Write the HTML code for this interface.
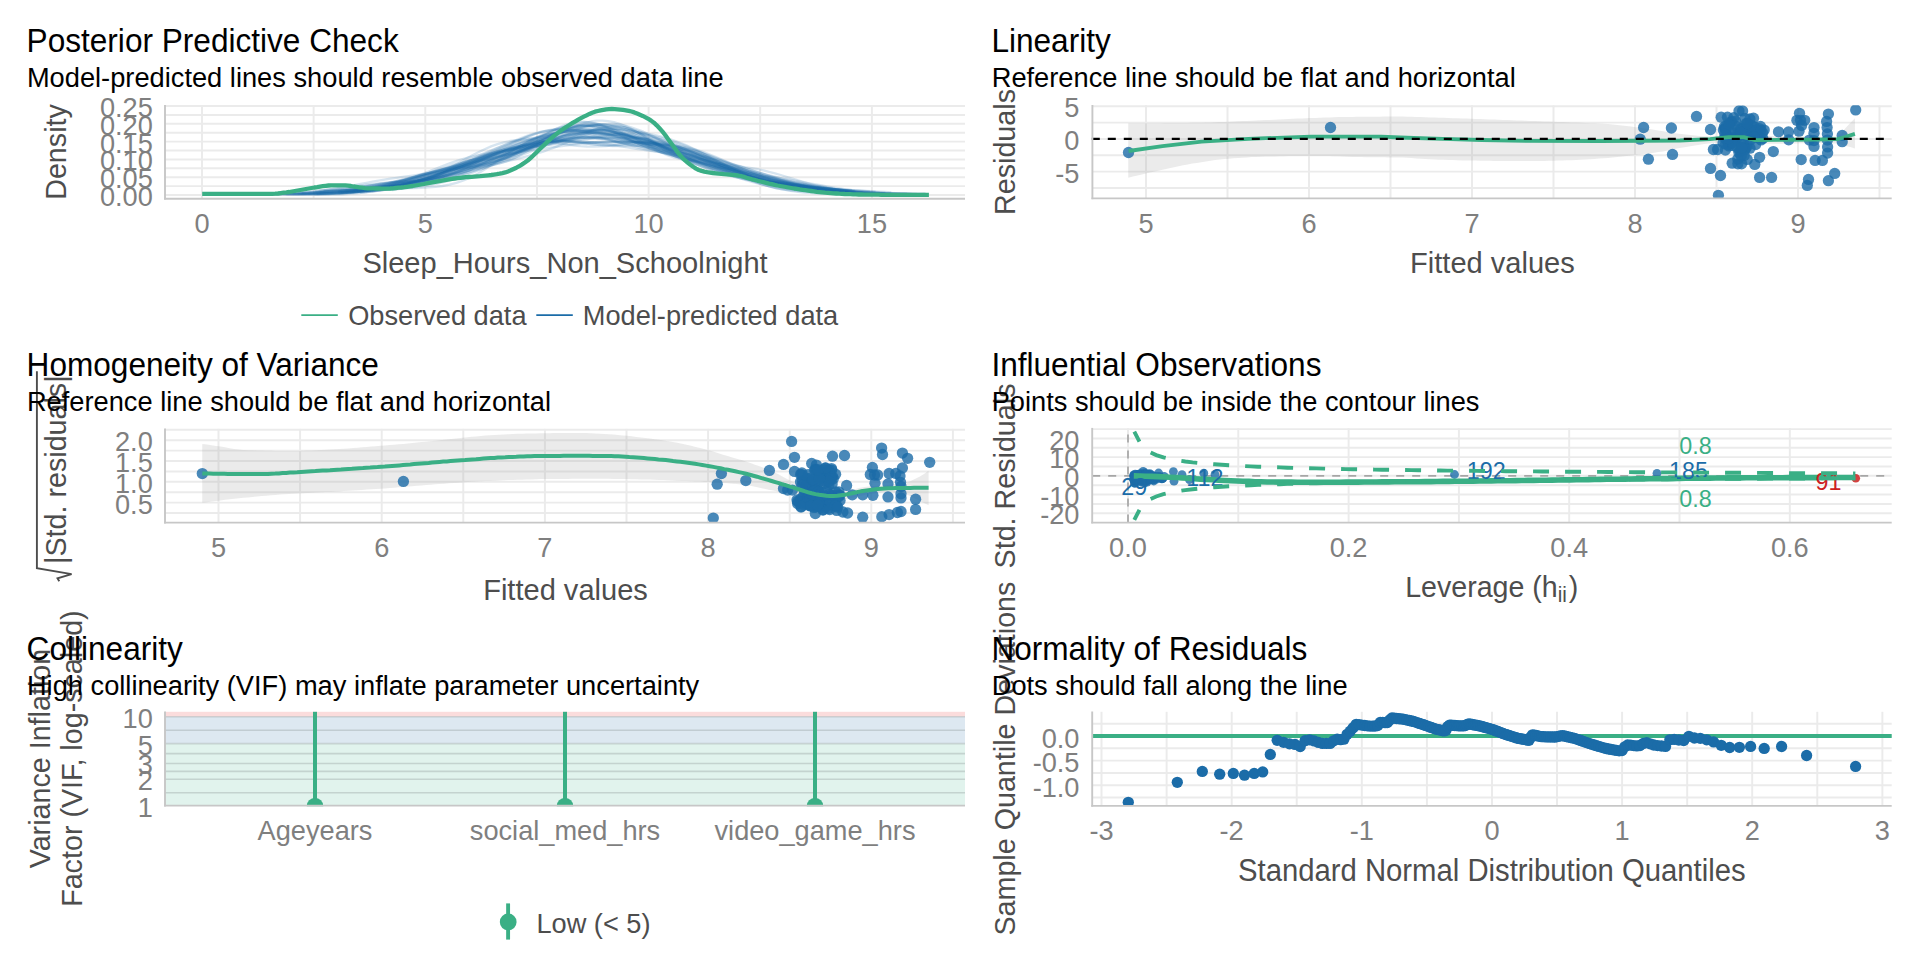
<!DOCTYPE html>
<html lang="en"><head><meta charset="utf-8"><title>Model check</title>
<style>html,body{margin:0;padding:0;background:#fff}body{width:1920px;height:960px;overflow:hidden}svg{display:block}text{white-space:pre}</style></head>
<body>
<svg width="1920" height="960" viewBox="0 0 1920 960" font-family="'Liberation Sans', sans-serif">
<rect width="1920" height="960" fill="#ffffff"/>
<defs>
<clipPath id="c1"><rect x="165" y="105.3" width="800" height="93.4"/></clipPath>
</defs>
<line x1="165" y1="195" x2="965" y2="195" stroke="#ebebeb" stroke-width="1.95"/>
<line x1="165" y1="186.1" x2="965" y2="186.1" stroke="#ebebeb" stroke-width="1.95"/>
<line x1="165" y1="177.2" x2="965" y2="177.2" stroke="#ebebeb" stroke-width="1.95"/>
<line x1="165" y1="168.3" x2="965" y2="168.3" stroke="#ebebeb" stroke-width="1.95"/>
<line x1="165" y1="159.4" x2="965" y2="159.4" stroke="#ebebeb" stroke-width="1.95"/>
<line x1="165" y1="150.5" x2="965" y2="150.5" stroke="#ebebeb" stroke-width="1.95"/>
<line x1="165" y1="141.6" x2="965" y2="141.6" stroke="#ebebeb" stroke-width="1.95"/>
<line x1="165" y1="132.7" x2="965" y2="132.7" stroke="#ebebeb" stroke-width="1.95"/>
<line x1="165" y1="123.8" x2="965" y2="123.8" stroke="#ebebeb" stroke-width="1.95"/>
<line x1="165" y1="114.9" x2="965" y2="114.9" stroke="#ebebeb" stroke-width="1.95"/>
<line x1="165" y1="106" x2="965" y2="106" stroke="#ebebeb" stroke-width="1.95"/>
<line x1="202" y1="105.3" x2="202" y2="198.7" stroke="#ebebeb" stroke-width="1.95"/>
<line x1="313.6" y1="105.3" x2="313.6" y2="198.7" stroke="#ebebeb" stroke-width="1.95"/>
<line x1="425.3" y1="105.3" x2="425.3" y2="198.7" stroke="#ebebeb" stroke-width="1.95"/>
<line x1="537" y1="105.3" x2="537" y2="198.7" stroke="#ebebeb" stroke-width="1.95"/>
<line x1="648.6" y1="105.3" x2="648.6" y2="198.7" stroke="#ebebeb" stroke-width="1.95"/>
<line x1="760.2" y1="105.3" x2="760.2" y2="198.7" stroke="#ebebeb" stroke-width="1.95"/>
<line x1="871.9" y1="105.3" x2="871.9" y2="198.7" stroke="#ebebeb" stroke-width="1.95"/>
<g clip-path="url(#c1)" fill="none" stroke="#1b6ca8" stroke-opacity="0.175" stroke-width="2.3" stroke-linejoin="round">
<polyline points="345.5,192.5 350.8,192 356.1,191.4 361.4,190.6 366.7,189.8 372,188.9 377.3,187.8 382.6,186.7 387.9,185.5 393.2,184.3 398.5,183 403.8,181.7 409.1,180.3 414.4,178.9 419.7,177.4 425,175.8 430.4,174.2 435.7,172.5 441,170.7 446.3,168.9 451.6,167 456.9,165.1 462.2,163.2 467.5,161.4 472.8,159.5 478.1,157.7 483.4,155.9 488.7,154.2 494,152.5 499.3,150.8 504.6,149.1 509.9,147.4 515.2,145.7 520.5,143.9 525.8,142.1 531.1,140.1 536.4,138.1 541.7,136 547,133.7 552.4,131.5 557.7,129.3 563,127.1 568.3,125.2 573.6,123.7 578.9,122.6 584.2,122.2 589.5,122.4 594.8,123.3 600.1,124.9 605.4,127 610.7,129.6 616,132.5 621.3,135.4 626.6,138.3 631.9,141 637.2,143.3 642.5,145.4 647.8,147.1 653.1,148.6 658.4,149.9 663.7,151.2 669,152.5 674.3,154 679.7,155.6 685,157.4 690.3,159.4 695.6,161.5 700.9,163.7 706.2,165.8 711.5,167.9 716.8,170 722.1,172 727.4,173.9 732.7,175.8 738,177.5 743.3,179.3 748.6,180.9 753.9,182.5 759.2,183.9 764.5,185.2 769.8,186.4 775.1,187.4 780.4,188.2 785.7,189 791,189.6 796.3,190.1 801.7,190.7 807,191.1 812.3,191.6 817.6,192"/>
<polyline points="272.6,194 279.1,194 285.5,194 292,194 298.4,194 304.9,193.9 311.3,193.9 317.8,193.8 324.2,193.7 330.7,193.5 337.1,193.3 343.6,193 350,192.6 356.5,192 362.9,191.3 369.4,190.5 375.8,189.4 382.3,188.1 388.7,186.7 395.2,185.2 401.6,183.6 408.1,182 414.5,180.3 421,178.6 427.4,176.8 433.8,174.9 440.3,172.8 446.7,170.4 453.2,167.9 459.6,165.2 466.1,162.5 472.5,159.7 479,157.1 485.4,154.8 491.9,152.8 498.3,151 504.8,149.4 511.2,148 517.7,146.5 524.1,144.8 530.6,142.9 537,140.7 543.5,138.3 549.9,135.6 556.4,132.9 562.8,130.3 569.3,128.1 575.7,126.5 582.2,125.6 588.6,125.5 595.1,126.3 601.5,127.8 607.9,129.9 614.4,132.6 620.8,135.5 627.3,138.6 633.7,141.6 640.2,144.4 646.6,147.1 653.1,149.5 659.5,151.7 666,153.7 672.4,155.5 678.9,157.3 685.3,159 691.8,160.8 698.2,162.5 704.7,164.3 711.1,166.2 717.6,168 724,169.8 730.5,171.5 736.9,173.3 743.4,175 749.8,176.7 756.3,178.4 762.7,180.1 769.2,181.8 775.6,183.4 782.1,184.9 788.5,186.3 794.9,187.5 801.4,188.6 807.8,189.6 814.3,190.4 820.7,191.1 827.2,191.7 833.6,192.2 840.1,192.6 846.5,193"/>
<polyline points="315.5,192.4 321.4,192.2 327.4,192 333.3,191.9 339.3,191.7 345.3,191.6 351.2,191.5 357.2,191.3 363.2,191 369.1,190.6 375.1,190 381,189.3 387,188.4 393,187.4 398.9,186.1 404.9,184.6 410.9,182.9 416.8,181.1 422.8,179.2 428.7,177.4 434.7,175.6 440.7,173.9 446.6,172.3 452.6,170.8 458.5,169.3 464.5,167.6 470.5,165.9 476.4,164 482.4,161.9 488.4,159.7 494.3,157.5 500.3,155.2 506.2,153 512.2,150.9 518.2,148.7 524.1,146.5 530.1,144.2 536.1,141.7 542,139 548,136.2 553.9,133.4 559.9,130.8 565.9,128.4 571.8,126.6 577.8,125.3 583.7,124.6 589.7,124.5 595.7,125 601.6,125.9 607.6,127.1 613.6,128.5 619.5,130.1 625.5,131.8 631.4,133.6 637.4,135.6 643.4,137.7 649.3,140.1 655.3,142.6 661.3,145.3 667.2,148.1 673.2,151 679.1,153.9 685.1,156.8 691.1,159.7 697,162.4 703,165.1 708.9,167.6 714.9,170 720.9,172.3 726.8,174.3 732.8,176.2 738.8,177.8 744.7,179.2 750.7,180.4 756.6,181.4 762.6,182.2 768.6,182.9 774.5,183.5 780.5,184.2 786.5,184.9 792.4,185.7 798.4,186.6 804.3,187.5 810.3,188.4 816.3,189.3 822.2,190.2 828.2,190.9 834.2,191.6 840.1,192.2 846.1,192.7"/>
<polyline points="366,189.6 371.5,188.7 376.9,187.8 382.3,186.8 387.8,185.9 393.2,184.9 398.7,184 404.1,183.1 409.5,182.3 415,181.4 420.4,180.5 425.8,179.5 431.3,178.5 436.7,177.3 442.2,176.1 447.6,174.8 453,173.4 458.5,171.8 463.9,170.2 469.3,168.4 474.8,166.5 480.2,164.5 485.7,162.4 491.1,160.2 496.5,157.7 502,155.2 507.4,152.5 512.8,149.7 518.3,146.9 523.7,144.1 529.2,141.3 534.6,138.7 540,136.3 545.5,134 550.9,132.1 556.3,130.4 561.8,129 567.2,127.9 572.7,127 578.1,126.5 583.5,126.3 589,126.5 594.4,127.1 599.8,128 605.3,129.3 610.7,131 616.2,132.9 621.6,135 627,137.2 632.5,139.4 637.9,141.5 643.3,143.5 648.8,145.4 654.2,147.2 659.7,148.9 665.1,150.6 670.5,152.2 676,153.8 681.4,155.4 686.8,157 692.3,158.7 697.7,160.4 703.2,162.1 708.6,163.9 714,165.6 719.5,167.4 724.9,169.2 730.3,171 735.8,172.8 741.2,174.6 746.7,176.3 752.1,177.9 757.5,179.3 763,180.7 768.4,181.9 773.9,182.9 779.3,183.7 784.7,184.5 790.2,185.1 795.6,185.6 801,186.1 806.5,186.5 811.9,187 817.4,187.4 822.8,187.9 828.2,188.4 833.7,189 839.1,189.6 844.5,190.2 850,190.8"/>
<polyline points="356.5,187.7 362,186.7 367.5,185.7 373,184.8 378.4,184 383.9,183.3 389.4,182.7 394.8,182.2 400.3,181.8 405.8,181.5 411.3,181.2 416.7,180.8 422.2,180.4 427.7,179.9 433.2,179.2 438.6,178.2 444.1,177 449.6,175.5 455.1,173.7 460.5,171.5 466,169.1 471.5,166.4 477,163.4 482.4,160.4 487.9,157.4 493.4,154.4 498.9,151.6 504.3,149.1 509.8,146.8 515.3,144.7 520.8,143 526.2,141.4 531.7,139.9 537.2,138.5 542.7,137.1 548.1,135.7 553.6,134.4 559.1,133.1 564.6,131.9 570,131 575.5,130.3 581,130 586.5,130.1 591.9,130.5 597.4,131.4 602.9,132.5 608.4,134 613.8,135.6 619.3,137.3 624.8,139.1 630.3,140.9 635.7,142.6 641.2,144.2 646.7,145.7 652.2,147.1 657.6,148.5 663.1,149.8 668.6,151.1 674.1,152.5 679.5,154 685,155.6 690.5,157.5 695.9,159.4 701.4,161.6 706.9,163.9 712.4,166.2 717.8,168.6 723.3,170.9 728.8,173 734.3,175 739.7,176.7 745.2,178.2 750.7,179.5 756.2,180.5 761.6,181.4 767.1,182.2 772.6,183 778.1,183.6 783.5,184.2 789,184.9 794.5,185.4 800,186 805.4,186.6 810.9,187.1 816.4,187.6 821.9,188.1 827.3,188.5 832.8,189 838.3,189.5 843.8,190.1"/>
<polyline points="338.7,191.2 344.7,190.8 350.7,190.3 356.8,189.8 362.8,189.2 368.8,188.6 374.9,187.8 380.9,187 386.9,185.9 392.9,184.6 399,183.2 405,181.5 411,179.6 417.1,177.5 423.1,175.3 429.1,173.1 435.2,170.8 441.2,168.6 447.2,166.5 453.3,164.6 459.3,162.9 465.3,161.4 471.4,160.1 477.4,158.9 483.4,157.9 489.5,156.9 495.5,156 501.5,155 507.5,154.1 513.6,153.1 519.6,152.2 525.6,151.2 531.7,150.2 537.7,149.3 543.7,148.4 549.8,147.6 555.8,146.8 561.8,146.1 567.9,145.3 573.9,144.6 579.9,143.9 586,143.2 592,142.6 598,142 604.1,141.6 610.1,141.2 616.1,141.1 622.1,141.1 628.2,141.4 634.2,142 640.2,142.8 646.3,143.8 652.3,145 658.3,146.4 664.4,147.8 670.4,149.4 676.4,150.9 682.5,152.5 688.5,154 694.5,155.5 700.6,156.9 706.6,158.3 712.6,159.6 718.7,161 724.7,162.4 730.7,163.9 736.8,165.5 742.8,167.3 748.8,169.1 754.8,171 760.9,173.1 766.9,175.1 772.9,177.2 779,179.3 785,181.2 791,183 797.1,184.6 803.1,186 809.1,187.2 815.2,188.2 821.2,189 827.2,189.6 833.3,190.1 839.3,190.4 845.3,190.6 851.4,190.8 857.4,191 863.4,191.1 869.4,191.3 875.5,191.6"/>
<polyline points="319.4,192.9 325.8,192.7 332.2,192.5 338.6,192.2 345.1,192 351.5,191.7 357.9,191.3 364.3,190.9 370.8,190.4 377.2,189.9 383.6,189.2 390,188.5 396.5,187.7 402.9,186.8 409.3,185.8 415.7,184.6 422.2,183.1 428.6,181.4 435,179.4 441.5,177.1 447.9,174.5 454.3,171.6 460.7,168.5 467.2,165.2 473.6,161.9 480,158.6 486.4,155.4 492.9,152.4 499.3,149.6 505.7,147.1 512.1,144.8 518.6,142.6 525,140.6 531.4,138.8 537.8,137 544.3,135.4 550.7,134 557.1,132.8 563.5,131.9 570,131.4 576.4,131.2 582.8,131.5 589.3,132.2 595.7,133.3 602.1,134.7 608.5,136.3 615,138.2 621.4,140.2 627.8,142.2 634.2,144.2 640.7,146.1 647.1,148 653.5,149.8 659.9,151.7 666.4,153.6 672.8,155.4 679.2,157.3 685.6,159.2 692.1,161.1 698.5,162.8 704.9,164.4 711.3,165.8 717.8,167 724.2,168.2 730.6,169.4 737.1,170.6 743.5,171.8 749.9,173.2 756.3,174.7 762.8,176.4 769.2,178 775.6,179.7 782,181.3 788.5,182.8 794.9,184.2 801.3,185.4 807.7,186.4 814.2,187.3 820.6,188 827,188.6 833.4,189.1 839.9,189.5 846.3,189.9 852.7,190.2 859.1,190.6 865.6,190.9 872,191.2 878.4,191.6 884.9,192 891.3,192.4"/>
<polyline points="359.2,189 364.4,188.4 369.6,187.8 374.8,187.3 380,186.8 385.2,186.4 390.4,186 395.6,185.6 400.7,185.1 405.9,184.4 411.1,183.7 416.3,182.7 421.5,181.6 426.7,180.2 431.9,178.5 437.1,176.7 442.3,174.7 447.4,172.5 452.6,170.3 457.8,167.9 463,165.6 468.2,163.3 473.4,161 478.6,158.8 483.8,156.7 488.9,154.7 494.1,152.9 499.3,151.1 504.5,149.6 509.7,148.1 514.9,146.8 520.1,145.7 525.3,144.7 530.5,143.9 535.6,143.2 540.8,142.6 546,142.1 551.2,141.6 556.4,141.3 561.6,140.9 566.8,140.6 572,140.2 577.2,139.8 582.3,139.4 587.5,139 592.7,138.7 597.9,138.3 603.1,138.1 608.3,137.9 613.5,137.9 618.7,138.1 623.9,138.5 629,139 634.2,139.7 639.4,140.6 644.6,141.5 649.8,142.6 655,143.6 660.2,144.7 665.4,145.7 670.5,146.8 675.7,147.9 680.9,149 686.1,150.2 691.3,151.6 696.5,153.1 701.7,154.9 706.9,156.9 712.1,159.1 717.2,161.4 722.4,163.9 727.6,166.4 732.8,168.9 738,171.2 743.2,173.4 748.4,175.4 753.6,177.1 758.8,178.6 763.9,179.9 769.1,181 774.3,181.8 779.5,182.6 784.7,183.2 789.9,183.8 795.1,184.4 800.3,185 805.5,185.6 810.6,186.3 815.8,187.1 821,187.8"/>
<polyline points="315.8,193.6 321.9,193.4 328.1,193.2 334.2,193 340.4,192.7 346.5,192.3 352.7,192 358.8,191.5 365,191 371.1,190.5 377.3,189.8 383.4,189 389.6,188.1 395.7,187.1 401.9,185.9 408,184.5 414.2,182.8 420.3,181 426.5,178.9 432.6,176.7 438.8,174.3 444.9,171.8 451.1,169.2 457.2,166.7 463.4,164.2 469.5,161.8 475.7,159.5 481.8,157.4 488,155.4 494.1,153.6 500.2,151.9 506.4,150.4 512.5,148.9 518.7,147.6 524.8,146.3 531,145.1 537.1,144 543.3,142.8 549.4,141.7 555.6,140.6 561.7,139.6 567.9,138.7 574,137.9 580.2,137.3 586.3,137 592.5,136.9 598.6,137.1 604.8,137.5 610.9,138.1 617.1,138.9 623.2,139.8 629.4,140.8 635.5,141.9 641.7,143.1 647.8,144.4 654,145.8 660.1,147.4 666.3,149.1 672.4,150.8 678.6,152.7 684.7,154.6 690.9,156.4 697,158.2 703.2,160 709.3,161.6 715.5,163.2 721.6,164.6 727.8,166 733.9,167.4 740.1,168.7 746.2,170 752.4,171.3 758.5,172.7 764.7,174.1 770.8,175.6 777,177.2 783.1,178.8 789.3,180.4 795.4,182 801.6,183.6 807.7,185.1 813.9,186.6 820,187.8 826.2,188.9 832.3,189.9 838.4,190.7 844.6,191.4 850.7,192 856.9,192.4 863,192.8"/>
<polyline points="260.1,193.6 267,193.8 273.9,194 280.8,194.2 287.7,194.4 294.6,194.5 301.5,194.7 308.5,194.7 315.4,194.8 322.3,194.8 329.2,194.7 336.1,194.5 343,194.3 350,193.9 356.9,193.3 363.8,192.6 370.7,191.7 377.6,190.6 384.5,189.3 391.4,187.8 398.4,186.1 405.3,184.3 412.2,182.3 419.1,180.3 426,178.1 432.9,175.8 439.8,173.5 446.8,171 453.7,168.5 460.6,165.8 467.5,163 474.4,160 481.3,156.9 488.3,153.7 495.2,150.5 502.1,147.3 509,144.2 515.9,141.1 522.8,138.3 529.7,135.8 536.7,133.5 543.6,131.7 550.5,130.4 557.4,129.7 564.3,129.6 571.2,130 578.1,131 585.1,132.4 592,134.2 598.9,136.2 605.8,138.3 612.7,140.4 619.6,142.5 626.6,144.5 633.5,146.4 640.4,148.2 647.3,149.7 654.2,151.1 661.1,152.4 668,153.6 675,154.9 681.9,156.2 688.8,157.6 695.7,159.2 702.6,161 709.5,162.9 716.4,165.1 723.4,167.3 730.3,169.7 737.2,172 744.1,174.4 751,176.7 757.9,178.8 764.9,180.8 771.8,182.5 778.7,184 785.6,185.4 792.5,186.5 799.4,187.4 806.3,188.2 813.3,189 820.2,189.6 827.1,190.1 834,190.6 840.9,191.1 847.8,191.5 854.7,191.9 861.7,192.3 868.6,192.6 875.5,193"/>
<polyline points="298.4,193.7 304.6,193.6 310.9,193.4 317.1,193.2 323.4,193 329.6,192.8 335.8,192.4 342.1,192 348.3,191.5 354.6,190.9 360.8,190.2 367,189.4 373.3,188.6 379.5,187.8 385.7,187 392,186.1 398.2,185.3 404.5,184.3 410.7,183.3 416.9,182.1 423.2,180.8 429.4,179.3 435.7,177.7 441.9,175.9 448.1,174.2 454.4,172.4 460.6,170.7 466.9,169 473.1,167.4 479.3,165.7 485.6,164 491.8,162.2 498.1,160.2 504.3,158 510.5,155.8 516.8,153.4 523,151.1 529.2,148.9 535.5,146.7 541.7,144.7 548,142.9 554.2,141.1 560.4,139.3 566.7,137.6 572.9,135.8 579.2,133.9 585.4,132.1 591.6,130.3 597.9,128.8 604.1,127.6 610.4,126.8 616.6,126.7 622.8,127.2 629.1,128.3 635.3,130 641.6,132.2 647.8,134.7 654,137.5 660.3,140.3 666.5,143.1 672.8,145.8 679,148.6 685.2,151.3 691.5,154.1 697.7,157.1 703.9,160.1 710.2,163.3 716.4,166.4 722.7,169.3 728.9,172.1 735.1,174.5 741.4,176.5 747.6,178.2 753.9,179.5 760.1,180.6 766.3,181.6 772.6,182.4 778.8,183.1 785.1,183.9 791.3,184.6 797.5,185.3 803.8,186 810,186.7 816.3,187.4 822.5,188 828.7,188.6 835,189.3 841.2,189.9 847.4,190.5 853.7,191.1"/>
<polyline points="337.5,193 343.9,192.6 350.3,192.2 356.7,191.7 363.1,191.2 369.5,190.5 375.9,189.8 382.3,189 388.7,188.1 395.1,187 401.5,185.7 407.9,184.3 414.3,182.6 420.7,180.6 427.1,178.3 433.5,175.7 439.9,172.8 446.3,169.7 452.7,166.3 459.1,162.7 465.5,159.1 471.9,155.6 478.3,152.3 484.7,149.2 491.1,146.4 497.5,144.2 503.9,142.3 510.3,141 516.7,140.1 523.1,139.7 529.5,139.7 535.9,140.1 542.3,140.8 548.7,141.7 555.1,142.7 561.5,143.7 567.9,144.7 574.3,145.5 580.7,146.2 587.1,146.5 593.5,146.6 599.9,146.4 606.3,146 612.7,145.3 619.1,144.4 625.5,143.5 631.9,142.7 638.3,142.1 644.7,141.8 651.1,141.9 657.5,142.4 663.9,143.5 670.3,145 676.7,146.9 683.1,149.2 689.5,151.8 695.9,154.5 702.3,157.3 708.7,160.1 715.1,162.8 721.5,165.4 727.9,167.8 734.3,170 740.7,172.1 747.1,174 753.5,175.8 759.9,177.5 766.3,179 772.7,180.5 779.1,181.9 785.5,183.3 791.9,184.6 798.3,185.9 804.7,187 811.1,188.1 817.5,189.1 823.9,190 830.3,190.8 836.7,191.4 843.1,192 849.5,192.4 855.9,192.7 862.3,193 868.7,193.2 875.1,193.3 881.5,193.5 887.9,193.6 894.3,193.7 900.7,193.7 907.1,193.8"/>
<polyline points="315,191.2 321.7,190.6 328.4,190.1 335.1,189.7 341.8,189.4 348.5,189.2 355.2,189 361.9,188.8 368.6,188.5 375.3,188.2 382,187.7 388.7,187 395.4,186.1 402.1,184.8 408.8,183.3 415.5,181.4 422.2,179.4 428.9,177.1 435.6,174.9 442.3,172.6 449.1,170.5 455.8,168.6 462.5,167 469.2,165.6 475.9,164.4 482.6,163.3 489.3,162.2 496,160.9 502.7,159.4 509.4,157.5 516.1,155.3 522.8,152.8 529.5,150.1 536.2,147.2 542.9,144.4 549.6,141.5 556.3,138.8 563,136.3 569.7,134.1 576.4,132.3 583.1,131 589.8,130.3 596.5,130.1 603.2,130.5 609.9,131.5 616.6,132.8 623.4,134.4 630.1,136.2 636.8,138 643.5,139.9 650.2,141.7 656.9,143.5 663.6,145.4 670.3,147.5 677,149.7 683.7,152.2 690.4,154.9 697.1,157.8 703.8,160.9 710.5,164.1 717.2,167.2 723.9,170.1 730.6,172.8 737.3,175.2 744,177.2 750.7,178.9 757.4,180.1 764.1,181.1 770.8,181.8 777.5,182.3 784.2,182.8 791,183.3 797.7,183.9 804.4,184.6 811.1,185.6 817.8,186.6 824.5,187.7 831.2,188.8 837.9,189.8 844.6,190.7 851.3,191.6 858,192.2 864.7,192.8 871.4,193.1 878.1,193.4 884.8,193.6 891.5,193.7 898.2,193.8 904.9,193.9 911.6,194"/>
<polyline points="392,190.1 397.2,189.3 402.4,188.4 407.6,187.5 412.8,186.5 418,185.4 423.2,184.2 428.4,182.9 433.6,181.4 438.8,179.7 444,177.8 449.2,175.8 454.4,173.5 459.6,171.1 464.8,168.5 470,165.8 475.2,163.1 480.4,160.5 485.6,157.9 490.8,155.5 496,153.4 501.2,151.5 506.4,150 511.6,148.7 516.8,147.7 522,146.8 527.2,146 532.4,145.2 537.6,144.2 542.8,143 548,141.5 553.2,139.7 558.4,137.6 563.6,135.3 568.8,133 574,130.7 579.2,128.6 584.4,126.8 589.6,125.6 594.8,124.8 600,124.7 605.2,125 610.4,125.9 615.6,127.2 620.8,128.8 626,130.8 631.2,132.9 636.4,135.1 641.6,137.4 646.8,139.8 652,142.1 657.2,144.3 662.4,146.5 667.6,148.5 672.8,150.4 678,152.2 683.2,153.9 688.4,155.5 693.6,157 698.8,158.6 704,160.1 709.2,161.6 714.4,163.2 719.6,164.8 724.8,166.3 730,168 735.2,169.6 740.4,171.2 745.7,172.8 750.9,174.4 756.1,176 761.3,177.6 766.5,179.2 771.7,180.7 776.9,182.1 782.1,183.4 787.3,184.6 792.5,185.7 797.7,186.5 802.9,187.3 808.1,187.8 813.3,188.3 818.5,188.7 823.7,189 828.9,189.2 834.1,189.5 839.3,189.8 844.5,190.2 849.7,190.6 854.9,191"/>
<polyline points="360.4,187.8 366.6,186.5 372.7,185.2 378.8,184.2 385,183.3 391.1,182.7 397.3,182.2 403.4,181.9 409.6,181.6 415.7,181.3 421.9,180.9 428,180.3 434.2,179.5 440.3,178.5 446.4,177.3 452.6,175.7 458.7,173.9 464.9,171.7 471,169.4 477.2,166.9 483.3,164.4 489.5,161.9 495.6,159.6 501.8,157.5 507.9,155.5 514,153.5 520.2,151.2 526.3,148.7 532.5,145.7 538.6,142.5 544.8,139 550.9,135.5 557.1,132.3 563.2,129.5 569.3,127.3 575.5,125.6 581.6,124.6 587.8,124.1 593.9,124 600.1,124.3 606.2,125 612.4,125.9 618.5,127.2 624.7,129 630.8,131.1 636.9,133.7 643.1,136.7 649.2,140 655.4,143.5 661.5,146.9 667.7,150.2 673.8,153.3 680,156.1 686.1,158.6 692.3,160.8 698.4,162.7 704.5,164.4 710.7,166 716.8,167.6 723,169.1 729.1,170.6 735.3,172.2 741.4,173.8 747.6,175.4 753.7,177.1 759.9,178.7 766,180.3 772.1,181.9 778.3,183.4 784.4,184.8 790.6,186.2 796.7,187.4 802.9,188.5 809,189.6 815.2,190.4 821.3,191.2 827.5,191.9 833.6,192.5 839.7,193 845.9,193.4 852,193.7 858.2,193.9 864.3,194.1 870.5,194.2 876.6,194.2 882.8,194.2 888.9,194.1 895.1,194 901.2,194 907.3,194"/>
<polyline points="323.6,190.6 329.5,190.3 335.4,190.1 341.3,189.9 347.2,189.7 353.1,189.6 359,189.4 364.9,189.1 370.8,188.8 376.7,188.3 382.6,187.6 388.6,186.8 394.5,185.7 400.4,184.5 406.3,183.2 412.2,181.6 418.1,180 424,178.3 429.9,176.5 435.8,174.7 441.7,172.8 447.6,170.9 453.5,169 459.5,167.1 465.4,165.1 471.3,163.2 477.2,161.1 483.1,159 489,156.8 494.9,154.7 500.8,152.5 506.7,150.3 512.6,148.3 518.5,146.4 524.4,144.7 530.4,143.4 536.3,142.3 542.2,141.6 548.1,141.2 554,141.1 559.9,141.2 565.8,141.5 571.7,141.8 577.6,142.1 583.5,142.3 589.4,142.4 595.3,142.5 601.3,142.4 607.2,142.3 613.1,142.2 619,142.1 624.9,142 630.8,142 636.7,142.1 642.6,142.3 648.5,142.6 654.4,143.1 660.3,143.7 666.2,144.6 672.2,145.7 678.1,147 684,148.6 689.9,150.5 695.8,152.7 701.7,155 707.6,157.5 713.5,160.1 719.4,162.8 725.3,165.3 731.2,167.8 737.1,170.1 743.1,172.3 749,174.3 754.9,176.1 760.8,177.8 766.7,179.3 772.6,180.7 778.5,182 784.4,183.2 790.3,184.3 796.2,185.3 802.1,186.2 808,187.1 814,187.9 819.9,188.6 825.8,189.3 831.7,190 837.6,190.6 843.5,191.2 849.4,191.8"/>
<polyline points="352.4,192.3 358,191.8 363.6,191.1 369.2,190.4 374.8,189.7 380.4,188.8 385.9,188 391.5,187 397.1,186 402.7,185 408.3,183.9 413.9,182.7 419.5,181.4 425.1,180.1 430.6,178.7 436.2,177.1 441.8,175.4 447.4,173.6 453,171.7 458.6,169.6 464.2,167.5 469.8,165.3 475.3,163 480.9,160.7 486.5,158.5 492.1,156.4 497.7,154.4 503.3,152.6 508.9,150.8 514.5,149.2 520,147.6 525.6,146.1 531.2,144.6 536.8,143.1 542.4,141.6 548,140.2 553.6,138.8 559.2,137.5 564.7,136.3 570.3,135.3 575.9,134.5 581.5,133.8 587.1,133.3 592.7,133.1 598.3,133 603.9,133.2 609.4,133.6 615,134.2 620.6,135.1 626.2,136.2 631.8,137.4 637.4,138.8 643,140.3 648.6,141.8 654.1,143.4 659.7,144.8 665.3,146.2 670.9,147.6 676.5,148.9 682.1,150.2 687.7,151.6 693.3,153.1 698.8,154.7 704.4,156.4 710,158.4 715.6,160.6 721.2,162.9 726.8,165.3 732.4,167.8 738,170.4 743.5,172.8 749.1,175.2 754.7,177.3 760.3,179.3 765.9,181 771.5,182.4 777.1,183.6 782.7,184.6 788.2,185.4 793.8,186 799.4,186.6 805,187 810.6,187.4 816.2,187.8 821.8,188.3 827.4,188.8 832.9,189.3 838.5,189.9 844.1,190.5 849.7,191.1"/>
<polyline points="286.5,194.1 292.9,194 299.2,194 305.5,194 311.8,193.9 318.2,193.8 324.5,193.6 330.8,193.2 337.2,192.8 343.5,192.2 349.8,191.4 356.1,190.5 362.5,189.5 368.8,188.3 375.1,187.1 381.4,185.8 387.8,184.5 394.1,183.1 400.4,181.7 406.8,180.2 413.1,178.7 419.4,177.2 425.7,175.6 432.1,174 438.4,172.3 444.7,170.6 451.1,169 457.4,167.3 463.7,165.8 470,164.3 476.4,162.9 482.7,161.5 489,160 495.3,158.5 501.7,156.8 508,155 514.3,152.9 520.7,150.6 527,148.3 533.3,145.9 539.6,143.6 546,141.6 552.3,139.9 558.6,138.7 564.9,137.9 571.3,137.4 577.6,137.3 583.9,137.5 590.3,137.8 596.6,138.1 602.9,138.3 609.2,138.5 615.6,138.5 621.9,138.3 628.2,138.1 634.6,137.9 640.9,137.7 647.2,137.8 653.5,138.2 659.9,139.1 666.2,140.4 672.5,142.3 678.8,144.7 685.2,147.5 691.5,150.6 697.8,153.9 704.2,157.3 710.5,160.7 716.8,163.9 723.1,166.8 729.5,169.6 735.8,172 742.1,174.2 748.5,176.2 754.8,178 761.1,179.7 767.4,181.3 773.8,182.7 780.1,184.1 786.4,185.5 792.7,186.7 799.1,187.8 805.4,188.8 811.7,189.6 818.1,190.3 824.4,191 830.7,191.5 837,191.9 843.4,192.3 849.7,192.7"/>
<polyline points="337.8,191.2 343.3,190.5 348.8,189.7 354.3,188.9 359.8,188.1 365.3,187.2 370.8,186.2 376.3,185.3 381.8,184.3 387.3,183.3 392.8,182.2 398.3,181.2 403.8,180.1 409.2,179 414.7,177.8 420.2,176.6 425.7,175.4 431.2,174.1 436.7,172.8 442.2,171.4 447.7,170 453.2,168.5 458.7,167 464.2,165.4 469.7,163.8 475.2,162.1 480.7,160.4 486.2,158.7 491.7,157 497.2,155.3 502.7,153.8 508.2,152.3 513.7,150.9 519.2,149.7 524.6,148.5 530.1,147.4 535.6,146.3 541.1,145.2 546.6,144.1 552.1,142.9 557.6,141.6 563.1,140.2 568.6,138.8 574.1,137.4 579.6,136 585.1,134.8 590.6,133.6 596.1,132.7 601.6,132.2 607.1,131.9 612.6,132 618.1,132.6 623.6,133.5 629.1,134.8 634.6,136.4 640,138.2 645.5,140.3 651,142.5 656.5,144.8 662,147.2 667.5,149.5 673,151.9 678.5,154.2 684,156.4 689.5,158.6 695,160.7 700.5,162.7 706,164.6 711.5,166.5 717,168.2 722.5,169.9 728,171.4 733.5,172.8 739,174.1 744.5,175.3 750,176.4 755.5,177.5 760.9,178.4 766.4,179.4 771.9,180.3 777.4,181.2 782.9,182 788.4,182.9 793.9,183.8 799.4,184.6 804.9,185.5 810.4,186.4 815.9,187.3 821.4,188.2 826.9,189.1"/>
<polyline points="353.2,190.9 359.6,190 366,188.9 372.5,187.7 378.9,186.4 385.3,185 391.8,183.5 398.2,181.8 404.6,179.9 411.1,177.9 417.5,175.7 423.9,173.3 430.3,170.9 436.8,168.3 443.2,165.8 449.6,163.3 456.1,161.1 462.5,159 468.9,157.3 475.4,155.8 481.8,154.6 488.2,153.5 494.7,152.4 501.1,151.4 507.5,150.2 513.9,148.9 520.4,147.4 526.8,145.9 533.2,144.5 539.7,143.2 546.1,142.2 552.5,141.5 559,141.3 565.4,141.4 571.8,141.9 578.2,142.6 584.7,143.4 591.1,144.2 597.5,144.8 604,145.1 610.4,145.2 616.8,145 623.3,144.6 629.7,144.1 636.1,143.6 642.6,143.3 649,143.3 655.4,143.6 661.8,144.4 668.3,145.6 674.7,147.2 681.1,149.2 687.6,151.5 694,154.1 700.4,156.7 706.9,159.5 713.3,162.2 719.7,164.9 726.1,167.6 732.6,170 739,172.4 745.4,174.6 751.9,176.6 758.3,178.4 764.7,180 771.2,181.5 777.6,182.8 784,184 790.5,185.1 796.9,186.1 803.3,187 809.7,187.9 816.2,188.7 822.6,189.5 829,190.2 835.5,191 841.9,191.7 848.3,192.3 854.8,192.9 861.2,193.4 867.6,193.8 874,194.1 880.5,194.4 886.9,194.6 893.3,194.7 899.8,194.8 906.2,194.9 912.6,194.9 919.1,194.9 925.5,194.9"/>
<polyline points="260.1,193.6 267.1,193.6 274.1,193.5 281.1,193.5 288.1,193.5 295.1,193.4 302.2,193.2 309.2,193 316.2,192.6 323.2,192.2 330.2,191.6 337.2,191 344.3,190.4 351.3,189.8 358.3,189.3 365.3,188.9 372.3,188.7 379.3,188.5 386.4,188.4 393.4,188.4 400.4,188.3 407.4,188.2 414.4,188.1 421.4,187.8 428.4,187.4 435.5,186.9 442.5,186 449.5,184.7 456.5,182.9 463.5,180.5 470.5,177.4 477.6,173.7 484.6,169.5 491.6,164.8 498.6,160.1 505.6,155.3 512.6,150.8 519.7,146.5 526.7,142.5 533.7,138.8 540.7,135.3 547.7,132.1 554.7,129.3 561.8,127.1 568.8,125.6 575.8,125 582.8,125.2 589.8,126.2 596.8,127.9 603.9,129.8 610.9,131.9 617.9,133.8 624.9,135.5 631.9,136.9 638.9,138.1 646,139.1 653,140.2 660,141.4 667,143 674,144.9 681,147.2 688.1,149.9 695.1,152.8 702.1,155.8 709.1,158.8 716.1,161.7 723.1,164.5 730.2,167 737.2,169.3 744.2,171.5 751.2,173.7 758.2,175.8 765.2,178 772.2,180.3 779.3,182.5 786.3,184.6 793.3,186.5 800.3,188.2 807.3,189.6 814.3,190.7 821.4,191.6 828.4,192.3 835.4,192.8 842.4,193.1 849.4,193.4 856.4,193.6 863.5,193.7 870.5,193.8 877.5,193.8 884.5,193.9"/>
<polyline points="285.7,194.1 292.7,194.1 299.8,194.1 306.8,194 313.9,194 320.9,193.9 328,193.6 335,193.3 342.1,192.8 349.1,192.1 356.2,191.4 363.3,190.5 370.3,189.6 377.4,188.6 384.4,187.6 391.5,186.6 398.5,185.6 405.6,184.6 412.6,183.5 419.7,182.3 426.7,180.9 433.8,179.3 440.9,177.3 447.9,175 455,172.4 462,169.4 469.1,166.2 476.1,162.8 483.2,159.4 490.2,156.1 497.3,153.1 504.3,150.4 511.4,148.2 518.5,146.5 525.5,145.1 532.6,144.1 539.6,143.2 546.7,142.4 553.7,141.6 560.8,140.8 567.8,139.8 574.9,138.8 581.9,137.7 589,136.6 596.1,135.6 603.1,134.8 610.2,134.4 617.2,134.3 624.3,134.8 631.3,135.7 638.4,137.2 645.4,139.2 652.5,141.7 659.5,144.4 666.6,147.2 673.7,150.1 680.7,152.8 687.8,155.3 694.8,157.5 701.9,159.4 708.9,161.1 716,162.7 723,164.2 730.1,165.9 737.2,167.6 744.2,169.6 751.3,171.6 758.3,173.8 765.4,176 772.4,178.2 779.5,180.2 786.5,182.1 793.6,183.9 800.6,185.4 807.7,186.8 814.8,188 821.8,189.2 828.9,190.2 835.9,191.1 843,191.9 850,192.6 857.1,193.1 864.1,193.6 871.2,193.8 878.2,194 885.3,194.1 892.4,194.1 899.4,194.1 906.5,194.1 913.5,194.1"/>
<polyline points="297.3,193.3 304.1,193 310.9,192.7 317.6,192.3 324.4,191.9 331.2,191.5 338,191 344.8,190.5 351.5,189.8 358.3,189.1 365.1,188.2 371.9,187.1 378.7,185.9 385.4,184.5 392.2,182.9 399,181.3 405.8,179.5 412.6,177.6 419.3,175.8 426.1,173.9 432.9,172.1 439.7,170.4 446.5,168.7 453.2,167.1 460,165.6 466.8,164.1 473.6,162.6 480.4,161.2 487.1,159.9 493.9,158.5 500.7,156.9 507.5,155.3 514.3,153.4 521,151.3 527.8,149.1 534.6,146.7 541.4,144.4 548.2,142.3 554.9,140.5 561.7,139 568.5,138 575.3,137.4 582.1,137.3 588.8,137.5 595.6,137.9 602.4,138.5 609.2,139.2 616,140 622.7,140.7 629.5,141.5 636.3,142.3 643.1,143.2 649.9,144.2 656.6,145.4 663.4,146.9 670.2,148.7 677,150.7 683.8,152.9 690.5,155.3 697.3,157.8 704.1,160.4 710.9,162.8 717.7,165.2 724.4,167.3 731.2,169.3 738,171.1 744.8,172.6 751.6,174.1 758.3,175.5 765.1,176.9 771.9,178.3 778.7,179.8 785.5,181.3 792.2,182.9 799,184.5 805.8,186 812.6,187.5 819.4,188.8 826.1,190 832.9,191 839.7,191.8 846.5,192.5 853.3,193 860,193.4 866.8,193.7 873.6,193.8 880.4,193.9 887.2,194 893.9,194 900.7,194.1"/>
<polyline points="369.9,188.3 375.1,187.4 380.3,186.6 385.5,185.8 390.7,185 395.9,184.3 401.1,183.6 406.3,182.9 411.5,182.1 416.8,181.4 422,180.5 427.2,179.7 432.4,178.7 437.6,177.7 442.8,176.6 448,175.4 453.2,174.2 458.4,172.9 463.6,171.5 468.8,170 474.1,168.4 479.3,166.9 484.5,165.2 489.7,163.6 494.9,161.9 500.1,160.1 505.3,158.3 510.5,156.4 515.7,154.4 520.9,152.4 526.1,150.4 531.3,148.4 536.6,146.4 541.8,144.5 547,142.7 552.2,141.1 557.4,139.5 562.6,138.1 567.8,136.7 573,135.4 578.2,134.2 583.4,132.9 588.6,131.8 593.8,130.7 599.1,129.8 604.3,129.2 609.5,128.8 614.7,128.7 619.9,129 625.1,129.5 630.3,130.4 635.5,131.5 640.7,132.8 645.9,134.4 651.1,136 656.3,137.8 661.6,139.7 666.8,141.7 672,143.7 677.2,145.9 682.4,148.2 687.6,150.6 692.8,153.1 698,155.6 703.2,158 708.4,160.5 713.6,162.8 718.9,164.9 724.1,166.9 729.3,168.8 734.5,170.4 739.7,171.9 744.9,173.3 750.1,174.6 755.3,175.9 760.5,177.1 765.7,178.3 770.9,179.5 776.1,180.7 781.4,181.9 786.6,183 791.8,184.1 797,185.2 802.2,186.2 807.4,187.2 812.6,188.1 817.8,188.9 823,189.7 828.2,190.4 833.4,191.1"/>
<polyline points="273.8,193.2 280.2,193.1 286.7,193.1 293.1,193.2 299.6,193.4 306,193.6 312.5,193.8 318.9,194 325.4,194 331.8,193.8 338.3,193.5 344.8,193 351.2,192.3 357.7,191.3 364.1,190.2 370.6,188.8 377,187.4 383.5,185.8 389.9,184.1 396.4,182.4 402.8,180.6 409.3,179 415.7,177.3 422.2,175.8 428.6,174.4 435.1,173 441.6,171.8 448,170.7 454.5,169.7 460.9,168.8 467.4,168.1 473.8,167.4 480.3,166.7 486.7,165.9 493.2,164.9 499.6,163.5 506.1,161.5 512.5,159 519,155.8 525.4,152.1 531.9,148 538.4,143.9 544.8,139.8 551.3,136.1 557.7,132.9 564.2,130.3 570.6,128.3 577.1,126.9 583.5,126 590,125.7 596.4,125.9 602.9,126.6 609.3,127.9 615.8,129.7 622.2,132.1 628.7,135 635.2,138.3 641.6,141.9 648.1,145.6 654.5,149.1 661,152.4 667.4,155.1 673.9,157.3 680.3,158.9 686.8,160.1 693.2,161.2 699.7,162.2 706.1,163.3 712.6,164.7 719,166.3 725.5,168.1 732,169.9 738.4,171.8 744.9,173.6 751.3,175.2 757.8,176.6 764.2,177.9 770.7,179.1 777.1,180.1 783.6,181.2 790,182.2 796.5,183.3 802.9,184.3 809.4,185.4 815.8,186.5 822.3,187.5 828.8,188.5 835.2,189.5 841.7,190.4 848.1,191.3"/>
<polyline points="313.3,193.3 319.5,193.1 325.7,192.8 331.9,192.5 338.2,192.2 344.4,191.9 350.6,191.6 356.8,191.2 363,190.8 369.3,190.3 375.5,189.6 381.7,188.8 387.9,187.8 394.1,186.6 400.3,185.3 406.6,183.8 412.8,182.2 419,180.5 425.2,178.7 431.4,176.8 437.7,174.9 443.9,172.8 450.1,170.7 456.3,168.4 462.5,166 468.7,163.5 475,161.1 481.2,158.7 487.4,156.4 493.6,154.4 499.8,152.7 506.1,151.3 512.3,150.2 518.5,149.3 524.7,148.5 530.9,147.8 537.1,146.9 543.4,145.9 549.6,144.6 555.8,143.1 562,141.3 568.2,139.3 574.5,137 580.7,134.7 586.9,132.3 593.1,130.1 599.3,128.2 605.5,126.9 611.8,126.2 618,126.4 624.2,127.4 630.4,129.3 636.6,132 642.8,135.2 649.1,138.7 655.3,142.4 661.5,145.9 667.7,149.2 673.9,152.1 680.2,154.6 686.4,156.9 692.6,158.9 698.8,160.7 705,162.5 711.2,164.3 717.5,166.2 723.7,168.2 729.9,170.2 736.1,172.2 742.3,174.2 748.6,176 754.8,177.8 761,179.3 767.2,180.8 773.4,182.1 779.6,183.3 785.9,184.4 792.1,185.4 798.3,186.4 804.5,187.4 810.7,188.3 817,189.1 823.2,189.9 829.4,190.6 835.6,191.3 841.8,191.8 848,192.3 854.3,192.7 860.5,193 866.7,193.3"/>
<polyline points="351.4,191.6 357.5,191 363.6,190.2 369.6,189.4 375.7,188.5 381.7,187.4 387.8,186.1 393.9,184.6 399.9,183 406,181.3 412,179.4 418.1,177.4 424.2,175.5 430.2,173.5 436.3,171.6 442.4,169.7 448.4,167.8 454.5,165.9 460.5,163.9 466.6,161.7 472.7,159.3 478.7,156.7 484.8,154 490.8,151.2 496.9,148.4 503,145.7 509,143.3 515.1,141.2 521.1,139.6 527.2,138.5 533.3,137.8 539.3,137.6 545.4,137.8 551.5,138.3 557.5,139 563.6,139.8 569.6,140.6 575.7,141.4 581.8,142 587.8,142.4 593.9,142.7 599.9,142.8 606,142.8 612.1,142.7 618.1,142.6 624.2,142.5 630.3,142.6 636.3,142.7 642.4,143.1 648.4,143.7 654.5,144.5 660.6,145.6 666.6,146.9 672.7,148.4 678.7,150.1 684.8,152 690.9,154 696.9,156.1 703,158.3 709,160.6 715.1,163 721.2,165.4 727.2,167.8 733.3,170.3 739.4,172.6 745.4,174.9 751.5,177.1 757.5,179.2 763.6,181.1 769.7,182.8 775.7,184.3 781.8,185.5 787.8,186.6 793.9,187.4 800,188.1 806,188.8 812.1,189.3 818.1,189.9 824.2,190.4 830.3,190.9 836.3,191.4 842.4,191.9 848.5,192.4 854.5,192.8 860.6,193.1 866.6,193.4 872.7,193.6 878.8,193.7 884.8,193.8 890.9,193.9"/>
<polyline points="300.5,193.9 307.6,193.8 314.6,193.7 321.6,193.5 328.6,193.3 335.6,192.8 342.7,192.1 349.7,191.3 356.7,190.3 363.7,189.1 370.8,187.9 377.8,186.8 384.8,185.7 391.8,184.6 398.8,183.6 405.9,182.5 412.9,181.3 419.9,180 426.9,178.5 434,176.7 441,174.9 448,173 455,171.2 462,169.5 469.1,167.9 476.1,166.3 483.1,164.6 490.1,162.6 497.2,160.2 504.2,157.5 511.2,154.5 518.2,151.1 525.2,147.6 532.3,144.1 539.3,140.7 546.3,137.6 553.3,134.8 560.4,132.3 567.4,130.2 574.4,128.4 581.4,126.9 588.4,125.7 595.5,124.8 602.5,124.5 609.5,124.7 616.5,125.5 623.5,127 630.6,129.3 637.6,132.2 644.6,135.7 651.6,139.6 658.7,143.7 665.7,147.9 672.7,152.1 679.7,156.1 686.7,159.8 693.8,163.3 700.8,166.3 707.8,169 714.8,171.2 721.9,172.9 728.9,174.4 735.9,175.5 742.9,176.5 749.9,177.5 757,178.5 764,179.7 771,181.2 778,182.8 785.1,184.5 792.1,186.1 799.1,187.6 806.1,188.9 813.1,190 820.2,190.9 827.2,191.7 834.2,192.3 841.2,192.8 848.3,193.1 855.3,193.4 862.3,193.6 869.3,193.8 876.3,194 883.4,194.2 890.4,194.4 897.4,194.5 904.4,194.6 911.4,194.7 918.5,194.7 925.5,194.7"/>
<polyline points="350.1,192.5 355.9,192.1 361.6,191.6 367.4,191.2 373.2,190.8 378.9,190.4 384.7,189.9 390.5,189.3 396.2,188.6 402,187.7 407.8,186.6 413.6,185.2 419.3,183.4 425.1,181.3 430.9,178.8 436.6,176.1 442.4,173.2 448.2,170.1 453.9,167.1 459.7,164.2 465.5,161.3 471.3,158.7 477,156.1 482.8,153.7 488.6,151.4 494.3,149 500.1,146.7 505.9,144.3 511.6,141.9 517.4,139.5 523.2,137.3 529,135.2 534.7,133.4 540.5,131.9 546.3,130.8 552,130.1 557.8,129.7 563.6,129.7 569.3,129.9 575.1,130.3 580.9,130.8 586.7,131.5 592.4,132.1 598.2,132.9 604,133.7 609.7,134.7 615.5,135.8 621.3,137.1 627,138.6 632.8,140.3 638.6,142.2 644.4,144.2 650.1,146.4 655.9,148.6 661.7,150.8 667.4,153.1 673.2,155.3 679,157.4 684.7,159.5 690.5,161.4 696.3,163.3 702.1,165 707.8,166.7 713.6,168.3 719.4,169.9 725.1,171.4 730.9,173 736.7,174.7 742.5,176.4 748.2,178 754,179.7 759.8,181.2 765.5,182.6 771.3,183.8 777.1,184.9 782.8,185.8 788.6,186.4 794.4,187 800.2,187.4 805.9,187.8 811.7,188.2 817.5,188.6 823.2,189 829,189.4 834.8,189.9 840.5,190.4 846.3,190.9 852.1,191.5 857.9,192 863.6,192.4"/>
<polyline points="340.9,192.5 346.7,192.1 352.5,191.7 358.3,191.3 364.1,190.7 369.9,190.1 375.6,189.2 381.4,188.2 387.2,187 393,185.6 398.8,184 404.6,182.3 410.4,180.4 416.1,178.5 421.9,176.5 427.7,174.4 433.5,172.4 439.3,170.3 445.1,168.4 450.8,166.4 456.6,164.6 462.4,162.8 468.2,161.1 474,159.5 479.8,157.9 485.6,156.4 491.3,154.8 497.1,153.2 502.9,151.5 508.7,149.7 514.5,147.9 520.3,145.9 526,144 531.8,142.1 537.6,140.3 543.4,138.6 549.2,137.2 555,136.1 560.8,135.2 566.5,134.7 572.3,134.6 578.1,134.7 583.9,135.2 589.7,136 595.5,137 601.2,138.2 607,139.5 612.8,141 618.6,142.3 624.4,143.6 630.2,144.8 636,145.7 641.7,146.4 647.5,147 653.3,147.4 659.1,147.7 664.9,148 670.7,148.5 676.5,149.1 682.2,149.9 688,151.1 693.8,152.5 699.6,154.2 705.4,156.1 711.2,158.2 716.9,160.6 722.7,163 728.5,165.6 734.3,168.2 740.1,170.7 745.9,173.3 751.7,175.7 757.4,178 763.2,180.1 769,182 774.8,183.7 780.6,185.2 786.4,186.4 792.1,187.5 797.9,188.5 803.7,189.3 809.5,190 815.3,190.7 821.1,191.2 826.9,191.7 832.6,192.1 838.4,192.5 844.2,192.8 850,193.1 855.8,193.4"/>
<polyline points="320.1,192 325.8,191.5 331.6,191 337.4,190.5 343.1,190 348.9,189.5 354.6,189 360.4,188.4 366.2,188 371.9,187.5 377.7,187 383.4,186.5 389.2,185.9 395,185.2 400.7,184.4 406.5,183.4 412.2,182.2 418,180.8 423.8,179.3 429.5,177.6 435.3,175.8 441.1,173.9 446.8,172 452.6,170 458.3,168 464.1,165.8 469.9,163.7 475.6,161.5 481.4,159.3 487.1,157.2 492.9,155.2 498.7,153.4 504.4,151.6 510.2,150 515.9,148.4 521.7,146.9 527.5,145.3 533.2,143.6 539,141.8 544.7,139.8 550.5,137.6 556.3,135.1 562,132.5 567.8,129.8 573.5,127.2 579.3,124.9 585.1,122.9 590.8,121.5 596.6,120.7 602.3,120.6 608.1,121.1 613.9,122.2 619.6,123.9 625.4,126.1 631.2,128.7 636.9,131.9 642.7,135.3 648.4,139.1 654.2,143 660,146.9 665.7,150.7 671.5,154.2 677.2,157.3 683,159.9 688.8,162.2 694.5,164.1 700.3,165.7 706,167.2 711.8,168.7 717.6,170.2 723.3,171.8 729.1,173.6 734.8,175.4 740.6,177.3 746.4,179.2 752.1,181.1 757.9,183 763.6,184.7 769.4,186.4 775.2,187.8 780.9,189.1 786.7,190.2 792.4,191.2 798.2,191.9 804,192.5 809.7,192.9 815.5,193.3 821.2,193.5 827,193.7 832.8,193.8"/>
<polyline points="360,192.6 365.8,192.1 371.5,191.5 377.3,190.9 383.1,190.1 388.9,189.3 394.7,188.4 400.5,187.5 406.2,186.5 412,185.6 417.8,184.7 423.6,183.8 429.4,182.9 435.2,181.8 441,180.6 446.7,179.2 452.5,177.4 458.3,175.3 464.1,172.9 469.9,170.1 475.7,167 481.4,163.8 487.2,160.4 493,157 498.8,153.6 504.6,150.4 510.4,147.5 516.2,144.8 521.9,142.4 527.7,140.4 533.5,138.6 539.3,137 545.1,135.6 550.9,134.4 556.7,133.3 562.4,132.1 568.2,130.9 574,129.7 579.8,128.4 585.6,127.1 591.4,125.8 597.1,124.8 602.9,124.1 608.7,123.8 614.5,124 620.3,124.7 626.1,125.9 631.9,127.5 637.6,129.5 643.4,131.7 649.2,134.2 655,137 660.8,140 666.6,143.2 672.3,146.7 678.1,150.3 683.9,153.9 689.7,157.4 695.5,160.6 701.3,163.5 707.1,166 712.8,168.2 718.6,170 724.4,171.6 730.2,172.9 736,174.2 741.8,175.5 747.5,176.8 753.3,178.1 759.1,179.5 764.9,180.8 770.7,182.2 776.5,183.5 782.3,184.8 788,186 793.8,187.1 799.6,188.2 805.4,189.2 811.2,190.2 817,191 822.8,191.7 828.5,192.4 834.3,192.9 840.1,193.2 845.9,193.5 851.7,193.7 857.5,193.8 863.2,193.8 869,193.9 874.8,193.9"/>
<polyline points="292.8,193.6 299.2,193.3 305.6,193.1 312,192.8 318.4,192.4 324.8,192 331.2,191.6 337.6,191.1 344,190.6 350.4,190.2 356.8,189.7 363.2,189.2 369.6,188.7 376,188.1 382.3,187.4 388.7,186.6 395.1,185.6 401.5,184.4 407.9,183.1 414.3,181.6 420.7,179.9 427.1,178.1 433.5,176.2 439.9,174.2 446.3,172.2 452.7,170 459.1,167.9 465.5,165.6 471.9,163.3 478.3,160.9 484.7,158.5 491.1,156 497.5,153.5 503.9,151 510.3,148.6 516.7,146.5 523.1,144.6 529.4,143 535.8,141.7 542.2,140.9 548.6,140.4 555,140.3 561.4,140.5 567.8,141.1 574.2,141.8 580.6,142.6 587,143.5 593.4,144.4 599.8,145.1 606.2,145.7 612.6,146 619,146.2 625.4,146.1 631.8,145.8 638.2,145.5 644.6,145.2 651,144.9 657.4,144.7 663.8,144.8 670.2,145.1 676.6,145.8 682.9,146.7 689.3,148.1 695.7,149.7 702.1,151.7 708.5,154 714.9,156.6 721.3,159.3 727.7,162.1 734.1,164.9 740.5,167.8 746.9,170.5 753.3,173.1 759.7,175.5 766.1,177.8 772.5,179.8 778.9,181.6 785.3,183.3 791.7,184.8 798.1,186 804.5,187.2 810.9,188.2 817.3,189 823.7,189.8 830.1,190.4 836.4,190.9 842.8,191.4 849.2,191.8 855.6,192.2 862,192.5"/>
<polyline points="372.1,191 378.2,190.4 384.3,189.9 390.5,189.4 396.6,188.9 402.7,188.4 408.8,187.9 414.9,187.3 421,186.6 427.2,185.7 433.3,184.6 439.4,183.2 445.5,181.6 451.6,179.8 457.8,177.8 463.9,175.7 470,173.5 476.1,171.3 482.2,168.9 488.3,166.3 494.5,163.7 500.6,160.8 506.7,157.7 512.8,154.4 518.9,151 525,147.6 531.2,144.2 537.3,141 543.4,137.9 549.5,135.2 555.6,132.8 561.7,130.6 567.9,128.8 574,127.4 580.1,126.3 586.2,125.8 592.3,125.7 598.5,126.2 604.6,127.3 610.7,128.9 616.8,130.9 622.9,133.2 629,135.6 635.2,137.9 641.3,140.1 647.4,141.9 653.5,143.5 659.6,144.7 665.7,145.7 671.9,146.6 678,147.6 684.1,148.6 690.2,149.9 696.3,151.5 702.5,153.4 708.6,155.6 714.7,158 720.8,160.6 726.9,163.2 733,165.9 739.2,168.5 745.3,170.9 751.4,173.2 757.5,175.4 763.6,177.3 769.7,179 775.9,180.6 782,182 788.1,183.2 794.2,184.4 800.3,185.4 806.4,186.4 812.6,187.2 818.7,188 824.8,188.7 830.9,189.3 837,189.9 843.2,190.5 849.3,191 855.4,191.5 861.5,192 867.6,192.4 873.7,192.7 879.9,193 886,193.3 892.1,193.5 898.2,193.6 904.3,193.7 910.4,193.8 916.6,193.9"/>
<polyline points="345.4,191 351.1,190.5 356.8,190 362.5,189.6 368.1,189.2 373.8,188.9 379.5,188.5 385.2,188.1 390.9,187.6 396.6,187.1 402.3,186.4 408,185.5 413.7,184.6 419.4,183.4 425.1,182.2 430.8,181 436.5,179.7 442.2,178.4 447.9,177.1 453.6,175.8 459.3,174.6 464.9,173.3 470.6,171.9 476.3,170.5 482,168.8 487.7,166.9 493.4,164.8 499.1,162.4 504.8,159.9 510.5,157.2 516.2,154.4 521.9,151.6 527.6,148.9 533.3,146.2 539,143.8 544.7,141.5 550.4,139.5 556,137.6 561.7,136 567.4,134.5 573.1,133.3 578.8,132.3 584.5,131.4 590.2,130.8 595.9,130.3 601.6,130 607.3,129.9 613,130 618.7,130.2 624.4,130.6 630.1,131.1 635.8,131.7 641.5,132.5 647.2,133.5 652.8,134.6 658.5,135.9 664.2,137.4 669.9,139.1 675.6,141 681.3,143.2 687,145.6 692.7,148.2 698.4,151.1 704.1,154.1 709.8,157.2 715.5,160.3 721.2,163.5 726.9,166.5 732.6,169.3 738.3,172 743.9,174.4 749.6,176.6 755.3,178.4 761,180.1 766.7,181.5 772.4,182.7 778.1,183.7 783.8,184.7 789.5,185.5 795.2,186.3 800.9,187.1 806.6,187.9 812.3,188.7 818,189.4 823.7,190.1 829.4,190.8 835.1,191.4 840.7,192 846.4,192.5 852.1,192.9"/>
<polyline points="308.5,193 315.1,192.4 321.8,191.8 328.4,191.1 335.1,190.3 341.7,189.4 348.4,188.5 355,187.6 361.7,186.6 368.3,185.7 375,184.8 381.6,183.7 388.3,182.6 394.9,181.3 401.6,179.9 408.3,178.2 414.9,176.5 421.6,174.6 428.2,172.8 434.9,171.2 441.5,169.8 448.2,168.6 454.8,167.7 461.5,166.9 468.1,166.2 474.8,165.5 481.4,164.5 488.1,163.3 494.7,161.7 501.4,159.7 508,157.2 514.7,154.4 521.3,151.3 528,147.9 534.6,144.5 541.3,141.1 547.9,137.9 554.6,135.2 561.2,132.9 567.9,131.2 574.5,130 581.2,129.3 587.8,129.1 594.5,129.3 601.1,129.8 607.8,130.7 614.4,131.9 621.1,133.4 627.7,135.3 634.4,137.5 641,139.9 647.7,142.6 654.3,145.4 661,148.3 667.6,151.3 674.3,154.4 680.9,157.4 687.6,160.3 694.2,163.2 700.9,165.9 707.5,168.5 714.2,171 720.8,173.2 727.5,175.2 734.1,176.9 740.8,178.4 747.4,179.5 754.1,180.4 760.7,181.1 767.4,181.7 774,182.2 780.7,182.7 787.3,183.4 794,184.2 800.6,185.1 807.3,186.2 813.9,187.3 820.6,188.4 827.2,189.5 833.9,190.5 840.5,191.3 847.2,192 853.8,192.6 860.5,193 867.1,193.3 873.8,193.5 880.4,193.6 887.1,193.7 893.7,193.8 900.4,193.9"/>
<polyline points="262.9,193.7 270.4,193.5 277.8,193.2 285.3,193 292.7,192.7 300.1,192.4 307.6,192.1 315,191.8 322.5,191.5 329.9,191.2 337.4,190.8 344.8,190.3 352.3,189.7 359.7,188.9 367.1,187.9 374.6,186.7 382,185.2 389.5,183.5 396.9,181.7 404.4,179.8 411.8,177.8 419.3,175.7 426.7,173.6 434.1,171.5 441.6,169.5 449,167.5 456.5,165.6 463.9,163.8 471.4,162.2 478.8,160.7 486.3,159.3 493.7,157.7 501.1,156 508.6,154.1 516,152 523.5,149.5 530.9,146.9 538.4,144.3 545.8,141.6 553.3,139.2 560.7,137 568.1,135.3 575.6,134.1 583,133.4 590.5,133.3 597.9,133.6 605.4,134.4 612.8,135.5 620.3,137 627.7,138.6 635.2,140.4 642.6,142.2 650,144.2 657.5,146.2 664.9,148.2 672.4,150.3 679.8,152.3 687.3,154.4 694.7,156.7 702.2,159.2 709.6,161.9 717,164.9 724.5,168.2 731.9,171.6 739.4,175 746.8,178.4 754.3,181.5 761.7,184.2 769.2,186.5 776.6,188.4 784,189.7 791.5,190.7 798.9,191.2 806.4,191.5 813.8,191.6 821.3,191.6 828.7,191.6 836.2,191.6 843.6,191.7 851,191.9 858.5,192.1 865.9,192.3 873.4,192.6 880.8,192.8 888.3,193 895.7,193.1 903.2,193.2 910.6,193.2 918,193.3 925.5,193.3"/>
<polyline points="260.1,194 267.1,194.1 274.1,194.1 281.1,194.1 288.2,194 295.2,193.9 302.2,193.7 309.2,193.5 316.3,193.2 323.3,193 330.3,192.8 337.3,192.7 344.4,192.7 351.4,192.6 358.4,192.4 365.4,192 372.5,191.4 379.5,190.5 386.5,189.2 393.5,187.6 400.6,185.7 407.6,183.5 414.6,181.1 421.6,178.7 428.7,176.2 435.7,174 442.7,172 449.7,170.3 456.8,168.8 463.8,167.4 470.8,166 477.9,164.4 484.9,162.6 491.9,160.4 498.9,157.9 506,155.1 513,151.9 520,148.5 527,144.9 534.1,141 541.1,136.9 548.1,132.9 555.1,129.2 562.2,126 569.2,123.6 576.2,122.1 583.2,121.7 590.3,122.3 597.3,123.7 604.3,125.9 611.3,128.6 618.4,131.7 625.4,135 632.4,138.4 639.4,141.6 646.5,144.6 653.5,147.3 660.5,149.7 667.5,151.9 674.6,154.1 681.6,156.3 688.6,158.5 695.6,160.8 702.7,163 709.7,165.2 716.7,167.3 723.7,169.4 730.8,171.5 737.8,173.6 744.8,175.9 751.8,178.2 758.9,180.5 765.9,182.8 772.9,184.8 779.9,186.6 787,188.1 794,189.2 801,190.1 808.1,190.8 815.1,191.4 822.1,191.8 829.1,192.2 836.2,192.5 843.2,192.7 850.2,192.8 857.2,192.8 864.3,192.8 871.3,192.9 878.3,192.9 885.3,193"/>
<polyline points="260.1,194.1 267.1,194.2 274.1,194.2 281.1,194.3 288.2,194.4 295.2,194.4 302.2,194.3 309.2,194.2 316.3,194 323.3,193.7 330.3,193.2 337.3,192.7 344.4,192 351.4,191.3 358.4,190.5 365.5,189.7 372.5,188.9 379.5,188 386.5,187.1 393.6,186.2 400.6,185.1 407.6,184 414.6,182.7 421.7,181.3 428.7,179.8 435.7,178.1 442.7,176.3 449.8,174.4 456.8,172.4 463.8,170.2 470.9,167.9 477.9,165.4 484.9,162.8 491.9,160 499,157.1 506,154.2 513,151.4 520,148.8 527.1,146.5 534.1,144.7 541.1,143.4 548.1,142.4 555.2,141.8 562.2,141.3 569.2,140.9 576.3,140.3 583.3,139.5 590.3,138.5 597.3,137.4 604.4,136.2 611.4,135 618.4,134.1 625.4,133.6 632.5,133.6 639.5,134 646.5,134.8 653.5,136.1 660.6,137.7 667.6,139.6 674.6,141.8 681.6,144.3 688.7,147.1 695.7,150.2 702.7,153.5 709.8,156.9 716.8,160.3 723.8,163.7 730.8,167 737.9,170 744.9,172.9 751.9,175.6 758.9,178 766,180.3 773,182.3 780,184.1 787,185.8 794.1,187.2 801.1,188.6 808.1,189.7 815.2,190.6 822.2,191.4 829.2,192 836.2,192.4 843.3,192.6 850.3,192.8 857.3,192.9 864.3,192.9 871.4,192.9 878.4,192.9 885.4,193"/>
<polyline points="340.4,192.5 346.2,192 352,191.4 357.8,190.7 363.6,190 369.4,189.2 375.2,188.3 381,187.3 386.8,186.3 392.6,185.2 398.4,184.2 404.2,183.1 410,182.1 415.8,181 421.6,180 427.3,179 433.1,178 438.9,177 444.7,175.9 450.5,174.8 456.3,173.6 462.1,172.3 467.9,171 473.7,169.6 479.5,168.2 485.3,166.8 491.1,165.3 496.9,163.8 502.7,162.4 508.4,161 514.2,159.6 520,158.2 525.8,156.7 531.6,155.1 537.4,153.4 543.2,151.6 549,149.5 554.8,147.3 560.6,145 566.4,142.6 572.2,140.1 578,137.7 583.8,135.4 589.6,133.4 595.3,131.7 601.1,130.3 606.9,129.4 612.7,129 618.5,129 624.3,129.5 630.1,130.5 635.9,131.9 641.7,133.7 647.5,135.8 653.3,138.2 659.1,140.7 664.9,143.4 670.7,146.2 676.4,148.9 682.2,151.5 688,154 693.8,156.2 699.6,158.2 705.4,160 711.2,161.5 717,162.8 722.8,163.9 728.6,164.9 734.4,165.7 740.2,166.5 746,167.3 751.8,168.2 757.6,169.2 763.3,170.4 769.1,171.8 774.9,173.3 780.7,175 786.5,176.8 792.3,178.6 798.1,180.4 803.9,182.2 809.7,183.8 815.5,185.3 821.3,186.6 827.1,187.8 832.9,188.8 838.7,189.6 844.4,190.3 850.2,191 856,191.6"/>
<polyline points="357.7,191.3 363.1,190.7 368.5,190.1 373.8,189.5 379.2,188.9 384.5,188.2 389.9,187.5 395.3,186.7 400.6,185.9 406,184.8 411.4,183.7 416.7,182.3 422.1,180.8 427.5,179 432.8,177.1 438.2,174.9 443.6,172.7 448.9,170.3 454.3,167.8 459.7,165.4 465,163.1 470.4,160.8 475.8,158.8 481.1,156.9 486.5,155.3 491.9,153.9 497.2,152.6 502.6,151.5 508,150.5 513.3,149.5 518.7,148.7 524.1,147.9 529.4,147.1 534.8,146.4 540.2,145.7 545.5,145.1 550.9,144.6 556.3,144.2 561.6,143.8 567,143.5 572.4,143.3 577.7,143.1 583.1,142.9 588.5,142.7 593.8,142.5 599.2,142.3 604.6,142.1 609.9,141.9 615.3,141.8 620.7,141.7 626,141.8 631.4,141.9 636.8,142.1 642.1,142.4 647.5,142.8 652.9,143.2 658.2,143.7 663.6,144.4 668.9,145.1 674.3,145.9 679.7,146.9 685,148 690.4,149.3 695.8,150.8 701.1,152.5 706.5,154.3 711.9,156.3 717.2,158.4 722.6,160.6 728,162.9 733.3,165.2 738.7,167.4 744.1,169.5 749.4,171.5 754.8,173.4 760.2,175.1 765.5,176.5 770.9,177.9 776.3,179 781.6,180.1 787,181 792.4,181.9 797.7,182.7 803.1,183.5 808.5,184.3 813.8,185.2 819.2,186 824.6,186.9 829.9,187.8 835.3,188.7"/>
<polyline points="301.4,192.1 308.4,191.5 315.4,190.9 322.4,190.2 329.4,189.4 336.4,188.5 343.4,187.6 350.4,186.7 357.5,185.8 364.5,184.9 371.5,184.1 378.5,183.3 385.5,182.6 392.5,182.1 399.5,181.6 406.5,181.2 413.6,180.8 420.6,180.4 427.6,180 434.6,179.4 441.6,178.6 448.6,177.5 455.6,176 462.6,174.1 469.7,171.9 476.7,169.4 483.7,166.7 490.7,163.7 497.7,160.8 504.7,157.8 511.7,154.9 518.7,152.1 525.8,149.5 532.8,147.2 539.8,145.1 546.8,143.3 553.8,141.8 560.8,140.5 567.8,139.5 574.9,138.6 581.9,137.9 588.9,137.3 595.9,136.8 602.9,136.5 609.9,136.4 616.9,136.6 623.9,136.9 631,137.5 638,138.3 645,139.3 652,140.6 659,142 666,143.6 673,145.5 680,147.7 687.1,150.2 694.1,152.9 701.1,155.8 708.1,158.9 715.1,162 722.1,165.2 729.1,168.2 736.1,171.1 743.2,173.7 750.2,176.1 757.2,178.1 764.2,179.9 771.2,181.4 778.2,182.7 785.2,183.8 792.2,184.8 799.3,185.6 806.3,186.4 813.3,187.2 820.3,187.9 827.3,188.6 834.3,189.3 841.3,189.9 848.4,190.5 855.4,191.1 862.4,191.6 869.4,192.2 876.4,192.7 883.4,193.1 890.4,193.5 897.4,193.8 904.5,194 911.5,194.2 918.5,194.2 925.5,194.3"/>
<polyline points="317.1,194 323.2,193.9 329.2,193.8 335.3,193.6 341.4,193.4 347.4,193 353.5,192.5 359.5,191.9 365.6,191 371.6,190.1 377.7,189 383.7,187.7 389.8,186.4 395.9,185 401.9,183.5 408,181.9 414,180.2 420.1,178.4 426.1,176.5 432.2,174.5 438.2,172.4 444.3,170.3 450.3,168.2 456.4,166.3 462.5,164.5 468.5,162.8 474.6,161.3 480.6,159.9 486.7,158.4 492.7,156.9 498.8,155.3 504.8,153.4 510.9,151.2 516.9,148.8 523,146.3 529.1,143.7 535.1,141.1 541.2,138.6 547.2,136.4 553.3,134.4 559.3,132.9 565.4,131.7 571.4,131 577.5,130.7 583.6,130.9 589.6,131.5 595.7,132.4 601.7,133.6 607.8,134.9 613.8,136.3 619.9,137.6 625.9,138.8 632,140 638,141.3 644.1,142.7 650.2,144.3 656.2,146.2 662.3,148.5 668.3,150.9 674.4,153.5 680.4,156.1 686.5,158.5 692.5,160.7 698.6,162.5 704.7,164 710.7,165.3 716.8,166.4 722.8,167.5 728.9,168.6 734.9,169.7 741,171.1 747,172.5 753.1,174 759.1,175.6 765.2,177.2 771.3,178.8 777.3,180.4 783.4,182 789.4,183.6 795.5,185 801.5,186.4 807.6,187.7 813.6,188.9 819.7,189.9 825.7,190.8 831.8,191.5 837.9,192.1 843.9,192.6 850,193 856,193.3"/>
<polyline points="313.1,192.7 320,192.3 326.9,191.9 333.8,191.4 340.7,190.9 347.5,190.2 354.4,189.4 361.3,188.4 368.2,187.3 375.1,186 381.9,184.6 388.8,183 395.7,181.3 402.6,179.6 409.5,177.8 416.3,176 423.2,174.4 430.1,172.8 437,171.4 443.9,170.2 450.7,169.2 457.6,168.3 464.5,167.6 471.4,166.8 478.3,165.9 485.1,164.9 492,163.7 498.9,162.2 505.8,160.4 512.7,158.2 519.6,155.8 526.4,153.1 533.3,150.4 540.2,147.6 547.1,144.9 554,142.6 560.8,140.6 567.7,139 574.6,138 581.5,137.5 588.4,137.6 595.2,138.1 602.1,139 609,140.1 615.9,141.5 622.8,142.9 629.6,144.4 636.5,145.8 643.4,147.1 650.3,148.4 657.2,149.5 664,150.5 670.9,151.5 677.8,152.4 684.7,153.4 691.6,154.4 698.4,155.5 705.3,156.8 712.2,158.3 719.1,160 726,161.9 732.8,164 739.7,166.2 746.6,168.5 753.5,170.8 760.4,173.1 767.2,175.3 774.1,177.4 781,179.4 787.9,181.2 794.8,182.9 801.6,184.4 808.5,185.7 815.4,186.8 822.3,187.8 829.2,188.7 836,189.5 842.9,190.2 849.8,190.8 856.7,191.4 863.6,191.9 870.4,192.4 877.3,192.9 884.2,193.3 891.1,193.6 898,193.8 904.9,194 911.7,194.1 918.6,194.1 925.5,194"/>
<polyline points="338.8,193.3 344.6,192.9 350.4,192.5 356.2,191.9 362,191.2 367.8,190.2 373.6,189.2 379.4,188 385.2,186.7 391,185.3 396.7,183.9 402.5,182.6 408.3,181.3 414.1,180.1 419.9,179.1 425.7,178.1 431.5,177.3 437.3,176.4 443.1,175.6 448.8,174.7 454.6,173.7 460.4,172.5 466.2,171.2 472,169.7 477.8,168 483.6,166.2 489.4,164.2 495.2,162.2 501,160 506.7,157.7 512.5,155.2 518.3,152.6 524.1,149.8 529.9,146.9 535.7,143.9 541.5,141 547.3,138.2 553.1,135.7 558.8,133.5 564.6,131.8 570.4,130.5 576.2,129.7 582,129.3 587.8,129.2 593.6,129.4 599.4,129.9 605.2,130.5 611,131.3 616.7,132.3 622.5,133.5 628.3,134.9 634.1,136.5 639.9,138.3 645.7,140.3 651.5,142.3 657.3,144.4 663.1,146.5 668.8,148.6 674.6,150.5 680.4,152.3 686.2,154 692,155.7 697.8,157.3 703.6,158.8 709.4,160.4 715.2,162 721,163.7 726.7,165.5 732.5,167.2 738.3,169.1 744.1,171 749.9,172.9 755.7,174.8 761.5,176.6 767.3,178.4 773.1,180.1 778.9,181.6 784.6,183 790.4,184.3 796.2,185.5 802,186.5 807.8,187.4 813.6,188.2 819.4,188.9 825.2,189.6 831,190.2 836.7,190.7 842.5,191.2 848.3,191.6 854.1,192"/>
<polyline points="271,194.1 277.4,194.1 283.9,194.2 290.3,194.2 296.8,194.3 303.3,194.4 309.7,194.4 316.2,194.3 322.7,194.2 329.1,194 335.6,193.7 342,193.3 348.5,192.8 355,192.2 361.4,191.5 367.9,190.8 374.4,190 380.8,189.2 387.3,188.4 393.8,187.5 400.2,186.4 406.7,185.2 413.1,183.9 419.6,182.3 426.1,180.5 432.5,178.4 439,176.1 445.5,173.5 451.9,170.9 458.4,168.1 464.8,165.4 471.3,162.7 477.8,160.1 484.2,157.7 490.7,155.5 497.2,153.5 503.6,151.5 510.1,149.7 516.5,147.9 523,146.1 529.5,144.2 535.9,142.4 542.4,140.5 548.9,138.6 555.3,136.9 561.8,135.2 568.2,133.7 574.7,132.5 581.2,131.5 587.6,130.8 594.1,130.5 600.6,130.5 607,131 613.5,131.9 619.9,133.4 626.4,135.3 632.9,137.7 639.3,140.4 645.8,143.3 652.3,146.3 658.7,149.2 665.2,151.9 671.6,154.3 678.1,156.4 684.6,158.1 691,159.6 697.5,160.9 704,162 710.4,163.1 716.9,164.3 723.3,165.5 729.8,166.8 736.3,168.3 742.7,169.8 749.2,171.5 755.7,173.2 762.1,175 768.6,176.8 775.1,178.6 781.5,180.4 788,182.1 794.4,183.8 800.9,185.4 807.4,186.9 813.8,188.3 820.3,189.5 826.8,190.5 833.2,191.4 839.7,192.1 846.1,192.7"/>
<polyline points="302.2,192.7 308.7,192.4 315.2,192.1 321.7,191.8 328.2,191.5 334.6,191.2 341.1,191 347.6,190.7 354.1,190.4 360.6,189.9 367.1,189.4 373.6,188.8 380.1,188 386.6,187.2 393,186.3 399.5,185.3 406,184.3 412.5,183.1 419,181.8 425.5,180.5 432,179 438.5,177.3 445,175.6 451.4,173.7 457.9,171.7 464.4,169.7 470.9,167.6 477.4,165.3 483.9,163 490.4,160.4 496.9,157.7 503.4,154.7 509.8,151.5 516.3,148.1 522.8,144.8 529.3,141.6 535.8,138.7 542.3,136.2 548.8,134.3 555.3,133.1 561.8,132.3 568.3,132.1 574.7,132.2 581.2,132.5 587.7,132.9 594.2,133.3 600.7,133.7 607.2,134.1 613.7,134.5 620.2,135.1 626.7,135.8 633.1,136.7 639.6,137.8 646.1,139.2 652.6,140.9 659.1,142.8 665.6,145 672.1,147.3 678.6,149.9 685.1,152.5 691.5,155.1 698,157.8 704.5,160.5 711,163.2 717.5,165.9 724,168.6 730.5,171.2 737,173.7 743.5,176.1 749.9,178.3 756.4,180.3 762.9,182 769.4,183.5 775.9,184.7 782.4,185.8 788.9,186.6 795.4,187.4 801.9,188.1 808.4,188.7 814.8,189.4 821.3,190 827.8,190.6 834.3,191.1 840.8,191.5 847.3,191.9 853.8,192.2 860.3,192.4 866.8,192.5 873.2,192.7 879.7,192.8"/>
<polyline points="366,191.3 371.2,190.7 376.3,190 381.5,189.2 386.6,188.3 391.8,187.3 397,186.1 402.1,184.9 407.3,183.6 412.4,182.2 417.6,180.8 422.7,179.3 427.9,177.8 433,176.3 438.2,174.7 443.3,173.1 448.5,171.4 453.6,169.6 458.8,167.8 463.9,165.8 469.1,163.7 474.3,161.6 479.4,159.3 484.6,156.9 489.7,154.5 494.9,152 500,149.5 505.2,147 510.3,144.5 515.5,142 520.6,139.7 525.8,137.4 530.9,135.4 536.1,133.5 541.2,131.9 546.4,130.7 551.6,129.7 556.7,129 561.9,128.6 567,128.5 572.2,128.7 577.3,129 582.5,129.6 587.6,130.2 592.8,130.9 597.9,131.8 603.1,132.8 608.2,133.9 613.4,135.1 618.6,136.6 623.7,138.2 628.9,140 634,141.9 639.2,143.9 644.3,146 649.5,148.1 654.6,150 659.8,151.9 664.9,153.5 670.1,155 675.2,156.3 680.4,157.5 685.5,158.6 690.7,159.7 695.9,160.8 701,162 706.2,163.3 711.3,164.6 716.5,166.1 721.6,167.7 726.8,169.4 731.9,171.1 737.1,172.8 742.2,174.5 747.4,176.2 752.5,177.7 757.7,179.2 762.8,180.5 768,181.7 773.2,182.8 778.3,183.8 783.5,184.7 788.6,185.4 793.8,186.1 798.9,186.8 804.1,187.4 809.2,187.9 814.4,188.5 819.5,189.1 824.7,189.7"/>
<polyline points="353.5,190.9 359.3,190.2 365.1,189.4 370.9,188.5 376.7,187.4 382.5,186.2 388.3,184.8 394.1,183.3 399.9,181.7 405.7,179.9 411.5,178.1 417.3,176.3 423.1,174.5 428.9,172.8 434.7,171.1 440.5,169.6 446.3,168.2 452.1,166.8 457.9,165.6 463.7,164.4 469.5,163.2 475.3,162 481.2,160.8 487,159.6 492.8,158.3 498.6,157 504.4,155.5 510.2,153.9 516,152.2 521.8,150.3 527.6,148.3 533.4,146.2 539.2,144 545,141.9 550.8,139.8 556.6,138 562.4,136.3 568.2,135 574,133.9 579.8,133.2 585.6,132.8 591.4,132.6 597.2,132.7 603,133.1 608.8,133.6 614.6,134.3 620.4,135.2 626.2,136.3 632,137.6 637.9,139.1 643.7,140.6 649.5,142.4 655.3,144.2 661.1,146.2 666.9,148.2 672.7,150.4 678.5,152.7 684.3,155.1 690.1,157.5 695.9,160 701.7,162.4 707.5,164.9 713.3,167.2 719.1,169.5 724.9,171.6 730.7,173.5 736.5,175.3 742.3,176.9 748.1,178.3 753.9,179.6 759.7,180.7 765.5,181.7 771.3,182.6 777.1,183.4 782.9,184.2 788.7,184.9 794.5,185.6 800.4,186.3 806.2,186.9 812,187.4 817.8,187.9 823.6,188.4 829.4,188.8 835.2,189.1 841,189.5 846.8,189.8 852.6,190.2 858.4,190.5 864.2,190.9 870,191.3"/>
<polyline points="318.6,190.9 324.6,190.1 330.6,189.2 336.6,188.3 342.6,187.2 348.5,186.2 354.5,185.1 360.5,183.9 366.5,182.8 372.5,181.7 378.5,180.7 384.5,179.7 390.5,178.7 396.5,177.8 402.5,176.9 408.5,176.1 414.5,175.3 420.4,174.5 426.4,173.7 432.4,172.8 438.4,171.9 444.4,170.8 450.4,169.7 456.4,168.5 462.4,167.2 468.4,165.7 474.4,164.2 480.4,162.5 486.4,160.8 492.4,158.9 498.3,157 504.3,155.1 510.3,153.2 516.3,151.4 522.3,149.6 528.3,147.9 534.3,146.3 540.3,145 546.3,143.8 552.3,142.9 558.3,142.2 564.3,141.7 570.2,141.5 576.2,141.5 582.2,141.7 588.2,142 594.2,142.6 600.2,143.3 606.2,144.1 612.2,145 618.2,145.9 624.2,146.9 630.2,147.9 636.2,148.8 642.2,149.7 648.1,150.5 654.1,151.3 660.1,152.1 666.1,152.9 672.1,153.7 678.1,154.6 684.1,155.6 690.1,156.8 696.1,158.1 702.1,159.7 708.1,161.3 714.1,163 720,164.8 726,166.6 732,168.3 738,169.9 744,171.4 750,172.7 756,173.9 762,175.1 768,176.1 774,177.2 780,178.2 786,179.2 791.9,180.2 797.9,181.2 803.9,182.3 809.9,183.4 815.9,184.5 821.9,185.5 827.9,186.6 833.9,187.6 839.9,188.5 845.9,189.4 851.9,190.2"/>
</g>
<polyline points="202.2,193.9 205,193.9 207.8,193.9 210.6,193.9 213.4,193.9 216.2,193.9 219,193.9 221.8,193.9 224.6,193.9 227.5,193.9 230.3,193.9 233.1,193.9 235.9,193.9 238.7,193.9 241.5,193.9 244.3,193.9 247.1,193.9 249.9,193.9 252.7,193.9 255.5,193.9 258.3,193.9 261.1,193.9 263.9,193.8 266.7,193.8 269.5,193.8 272.3,193.8 275.2,193.7 278,193.5 280.8,193.1 283.6,192.7 286.4,192.4 289.2,192 292,191.5 294.8,191 297.6,190.5 300.4,190 303.2,189.5 306,189 308.8,188.5 311.6,188 314.4,187.5 317.2,187.1 320,186.6 322.8,186.2 325.7,185.8 328.5,185.5 331.3,185.3 334.1,185.3 336.9,185.3 339.7,185.3 342.5,185.3 345.3,185.3 348.1,185.6 350.9,186 353.7,186.5 356.5,186.9 359.3,187.3 362.1,187.7 364.9,188.1 367.7,188.3 370.5,188.4 373.4,188.4 376.2,188.5 379,188.5 381.8,188.6 384.6,188.6 387.4,188.6 390.2,188.5 393,188.3 395.8,188 398.6,187.7 401.4,187.5 404.2,187.2 407,186.8 409.8,186.4 412.6,186 415.4,185.5 418.2,185 421.1,184.5 423.9,184 426.7,183.4 429.5,182.9 432.3,182.4 435.1,181.9 437.9,181.4 440.7,180.9 443.5,180.4 446.3,179.9 449.1,179.4 451.9,178.9 454.7,178.5 457.5,178.1 460.3,177.8 463.1,177.5 465.9,177.2 468.8,177 471.6,176.8 474.4,176.6 477.2,176.4 480,176.2 482.8,175.9 485.6,175.6 488.4,175.3 491.2,175 494,174.6 496.8,174.2 499.6,173.7 502.4,173.1 505.2,172.4 508,171.4 510.8,170.3 513.6,169 516.4,167.7 519.3,166.2 522.1,164.4 524.9,162.5 527.7,160.5 530.5,158.1 533.3,155.5 536.1,152.7 538.9,150 541.7,147.3 544.5,144.6 547.3,141.9 550.1,139.3 552.9,136.8 555.7,134.6 558.5,132.4 561.3,130.3 564.1,128.4 567,126.5 569.8,124.7 572.6,122.9 575.4,121.3 578.2,119.7 581,118.2 583.8,116.7 586.6,115.3 589.4,113.9 592.2,112.7 595,111.7 597.8,111 600.6,110.4 603.4,109.9 606.2,109.4 609,109.1 611.8,109 614.7,109.1 617.5,109.3 620.3,109.6 623.1,109.9 625.9,110.3 628.7,110.8 631.5,111.5 634.3,112.4 637.1,113.5 639.9,114.7 642.7,115.9 645.5,117.3 648.3,118.8 651.1,120.6 653.9,122.7 656.7,125.3 659.5,128.3 662.3,131.4 665.2,135 668,138.9 670.8,142.7 673.6,146.6 676.4,150.6 679.2,154.3 682,157.4 684.8,160.2 687.6,162.6 690.4,164.8 693.2,166.8 696,168.6 698.8,170 701.6,170.9 704.4,171.6 707.2,172.2 710,172.6 712.9,173 715.7,173.3 718.5,173.6 721.3,173.8 724.1,174.1 726.9,174.3 729.7,174.6 732.5,174.9 735.3,175.2 738.1,175.5 740.9,176 743.7,176.8 746.5,177.7 749.3,178.5 752.1,179.3 754.9,180 757.7,180.8 760.6,181.5 763.4,182.2 766.2,182.9 769,183.6 771.8,184.2 774.6,184.9 777.4,185.5 780.2,186 783,186.5 785.8,187 788.6,187.5 791.4,188 794.2,188.5 797,188.9 799.8,189.4 802.6,189.8 805.4,190.2 808.3,190.6 811.1,191 813.9,191.4 816.7,191.8 819.5,192.1 822.3,192.4 825.1,192.7 827.9,192.9 830.7,193.1 833.5,193.3 836.3,193.5 839.1,193.7 841.9,193.8 844.7,194 847.5,194.1 850.3,194.2 853.1,194.3 855.9,194.4 858.8,194.5 861.6,194.5 864.4,194.6 867.2,194.6 870,194.7 872.8,194.7 875.6,194.7 878.4,194.7 881.2,194.8 884,194.8 886.8,194.8 889.6,194.8 892.4,194.8 895.2,194.8 898,194.8 900.8,194.8 903.6,194.8 906.5,194.8 909.3,194.8 912.1,194.8 914.9,194.8 917.7,194.8 920.5,194.8 923.3,194.8 926.1,194.8 928.9,194.8" fill="none" stroke="#3aaf85" stroke-width="4.3" stroke-linejoin="round"/>
<line x1="165" y1="105" x2="165" y2="199.6" stroke="#c7c7c7" stroke-width="1.9"/>
<line x1="164.1" y1="198.8" x2="965" y2="198.8" stroke="#c7c7c7" stroke-width="1.9"/>
<text transform="translate(152.8 205.9) scale(1 1.04)" font-size="27.2" fill="#7f7f7f" text-anchor="end">0.00</text>
<text transform="translate(152.8 188.1) scale(1 1.04)" font-size="27.2" fill="#7f7f7f" text-anchor="end">0.05</text>
<text transform="translate(152.8 170.3) scale(1 1.04)" font-size="27.2" fill="#7f7f7f" text-anchor="end">0.10</text>
<text transform="translate(152.8 152.5) scale(1 1.04)" font-size="27.2" fill="#7f7f7f" text-anchor="end">0.15</text>
<text transform="translate(152.8 134.7) scale(1 1.04)" font-size="27.2" fill="#7f7f7f" text-anchor="end">0.20</text>
<text transform="translate(152.8 116.9) scale(1 1.04)" font-size="27.2" fill="#7f7f7f" text-anchor="end">0.25</text>
<text transform="translate(202 232.75) scale(1 1.04)" font-size="27.2" fill="#7f7f7f" text-anchor="middle">0</text>
<text transform="translate(425.3 232.75) scale(1 1.04)" font-size="27.2" fill="#7f7f7f" text-anchor="middle">5</text>
<text transform="translate(648.6 232.75) scale(1 1.04)" font-size="27.2" fill="#7f7f7f" text-anchor="middle">10</text>
<text transform="translate(871.9 232.75) scale(1 1.04)" font-size="27.2" fill="#7f7f7f" text-anchor="middle">15</text>
<text transform="translate(565 272.75) scale(1 1.04)" font-size="29.05" fill="#4d4d4d" text-anchor="middle">Sleep_Hours_Non_Schoolnight</text>
<text transform="translate(66.3 152) rotate(-90) scale(1 1.04)" font-size="28.7" fill="#4d4d4d" text-anchor="middle">Density</text>
<text transform="translate(26.6 51.6) scale(1 1.04)" font-size="31.6" fill="#000" text-anchor="start">Posterior Predictive Check</text>
<text transform="translate(26.9 86.6) scale(1 1.04)" font-size="27.25" fill="#000" text-anchor="start">Model-predicted lines should resemble observed data line</text>
<line x1="301.3" y1="315.2" x2="337.8" y2="315.2" stroke="#3aaf85" stroke-width="1.7"/>
<text transform="translate(348.2 325.2) scale(1 1.04)" font-size="27.2" fill="#4d4d4d" text-anchor="start">Observed data</text>
<line x1="536.3" y1="315.2" x2="572.8" y2="315.2" stroke="#1b6ca8" stroke-width="1.7"/>
<text transform="translate(582.8 325.2) scale(1 1.04)" font-size="27.2" fill="#4d4d4d" text-anchor="start">Model-predicted data</text>
<defs>
<clipPath id="c2"><rect x="1092.4" y="105.3" width="799.3" height="93"/></clipPath>
</defs>
<line x1="1092.4" y1="106.2" x2="1891.7" y2="106.2" stroke="#ebebeb" stroke-width="1.95"/>
<line x1="1092.4" y1="122.6" x2="1891.7" y2="122.6" stroke="#ebebeb" stroke-width="1.95"/>
<line x1="1092.4" y1="138.9" x2="1891.7" y2="138.9" stroke="#ebebeb" stroke-width="1.95"/>
<line x1="1092.4" y1="155.2" x2="1891.7" y2="155.2" stroke="#ebebeb" stroke-width="1.95"/>
<line x1="1092.4" y1="171.6" x2="1891.7" y2="171.6" stroke="#ebebeb" stroke-width="1.95"/>
<line x1="1092.4" y1="187.9" x2="1891.7" y2="187.9" stroke="#ebebeb" stroke-width="1.95"/>
<line x1="1146" y1="105.3" x2="1146" y2="198.3" stroke="#ebebeb" stroke-width="1.95"/>
<line x1="1227.5" y1="105.3" x2="1227.5" y2="198.3" stroke="#ebebeb" stroke-width="1.95"/>
<line x1="1309" y1="105.3" x2="1309" y2="198.3" stroke="#ebebeb" stroke-width="1.95"/>
<line x1="1390.5" y1="105.3" x2="1390.5" y2="198.3" stroke="#ebebeb" stroke-width="1.95"/>
<line x1="1472" y1="105.3" x2="1472" y2="198.3" stroke="#ebebeb" stroke-width="1.95"/>
<line x1="1553.5" y1="105.3" x2="1553.5" y2="198.3" stroke="#ebebeb" stroke-width="1.95"/>
<line x1="1635" y1="105.3" x2="1635" y2="198.3" stroke="#ebebeb" stroke-width="1.95"/>
<line x1="1716.5" y1="105.3" x2="1716.5" y2="198.3" stroke="#ebebeb" stroke-width="1.95"/>
<line x1="1798" y1="105.3" x2="1798" y2="198.3" stroke="#ebebeb" stroke-width="1.95"/>
<line x1="1879.5" y1="105.3" x2="1879.5" y2="198.3" stroke="#ebebeb" stroke-width="1.95"/>
<polygon points="1128.3,123.3 1132.9,123.3 1137.4,123.3 1142,123.3 1146.6,123.3 1151.1,123.2 1155.7,123.2 1160.3,123.2 1164.9,123.1 1169.4,123.1 1174,123 1178.6,123 1183.1,122.9 1187.7,122.9 1192.3,122.8 1196.8,122.8 1201.4,122.7 1206,122.5 1210.6,122.4 1215.1,122.3 1219.7,122.1 1224.3,121.9 1228.8,121.7 1233.4,121.5 1238,121.3 1242.5,121.1 1247.1,120.9 1251.7,120.7 1256.3,120.5 1260.8,120.3 1265.4,120.1 1270,119.9 1274.5,119.7 1279.1,119.4 1283.7,119.2 1288.2,119 1292.8,118.8 1297.4,118.6 1302,118.4 1306.5,118.2 1311.1,118 1315.7,117.9 1320.2,117.7 1324.8,117.5 1329.4,117.4 1333.9,117.2 1338.5,117.1 1343.1,117 1347.7,116.9 1352.2,116.9 1356.8,116.8 1361.4,116.8 1365.9,116.8 1370.5,116.7 1375.1,116.7 1379.6,116.7 1384.2,116.6 1388.8,116.6 1393.3,116.6 1397.9,116.6 1402.5,116.6 1407.1,116.7 1411.6,116.8 1416.2,116.9 1420.8,117.1 1425.3,117.3 1429.9,117.4 1434.5,117.5 1439,117.7 1443.6,117.8 1448.2,118 1452.8,118.2 1457.3,118.3 1461.9,118.5 1466.5,118.6 1471,118.8 1475.6,119 1480.2,119.1 1484.7,119.3 1489.3,119.4 1493.9,119.6 1498.5,119.7 1503,119.9 1507.6,120 1512.2,120.2 1516.7,120.4 1521.3,120.5 1525.9,120.7 1530.4,120.9 1535,121 1539.6,121.2 1544.2,121.4 1548.7,121.6 1553.3,121.7 1557.9,121.9 1562.4,122.1 1567,122.3 1571.6,122.5 1576.1,122.6 1580.7,122.8 1585.3,123 1589.9,123.2 1594.4,123.3 1599,123.6 1603.6,123.8 1608.1,124.1 1612.7,124.5 1617.3,124.9 1621.8,125.5 1626.4,126 1631,126.6 1635.5,127.2 1640.1,127.8 1644.7,128.4 1649.3,129.1 1653.8,129.8 1658.4,130.5 1663,131.2 1667.5,132 1672.1,132.8 1676.7,133.6 1681.2,134.1 1685.8,134.6 1690.4,135.1 1695,135.6 1699.5,135.9 1704.1,136.2 1708.7,136.3 1713.2,136.2 1717.8,136 1722.4,135.6 1726.9,135.1 1731.5,134.7 1736.1,134.4 1740.7,134.3 1745.2,134.4 1749.8,134.7 1754.4,135.1 1758.9,135.5 1763.5,135.9 1768.1,136.1 1772.6,136.3 1777.2,136.4 1781.8,136.5 1786.4,136.6 1790.9,136.6 1795.5,136.7 1800.1,136.8 1804.6,136.8 1809.2,136.8 1813.8,136.8 1818.3,136.8 1822.9,136.7 1827.5,136.6 1832.1,136.5 1836.6,136.4 1841.2,133.2 1845.8,127.7 1850.3,123.1 1854.9,118.2 1854.9,148.4 1850.3,147.1 1845.8,145.9 1841.2,144.5 1836.6,143.6 1832.1,143.5 1827.5,143.4 1822.9,143.3 1818.3,143.2 1813.8,143.2 1809.2,143.2 1804.6,143.2 1800.1,143.3 1795.5,143.4 1790.9,143.5 1786.4,143.6 1781.8,143.7 1777.2,143.7 1772.6,143.8 1768.1,143.8 1763.5,143.5 1758.9,143 1754.4,142.4 1749.8,141.9 1745.2,141.4 1740.7,141.2 1736.1,141.3 1731.5,141.5 1726.9,141.8 1722.4,142.2 1717.8,142.6 1713.2,143.1 1708.7,143.5 1704.1,144.1 1699.5,144.7 1695,145.4 1690.4,146.2 1685.8,147 1681.2,147.8 1676.7,148.6 1672.1,149.6 1667.5,150.5 1663,151.4 1658.4,152.1 1653.8,152.8 1649.3,153.4 1644.7,154 1640.1,154.5 1635.5,155.1 1631,155.6 1626.4,156.1 1621.8,156.6 1617.3,157.1 1612.7,157.5 1608.1,157.9 1603.6,158.2 1599,158.6 1594.4,158.9 1589.9,159.2 1585.3,159.5 1580.7,159.8 1576.1,160 1571.6,160.2 1567,160.3 1562.4,160.4 1557.9,160.6 1553.3,160.7 1548.7,160.8 1544.2,160.9 1539.6,160.9 1535,161 1530.4,161.1 1525.9,161.1 1521.3,161.1 1516.7,161.1 1512.2,161.1 1507.6,161 1503,161 1498.5,161 1493.9,160.9 1489.3,160.8 1484.7,160.8 1480.2,160.7 1475.6,160.6 1471,160.6 1466.5,160.5 1461.9,160.4 1457.3,160.3 1452.8,160.1 1448.2,160 1443.6,159.8 1439,159.7 1434.5,159.5 1429.9,159.3 1425.3,159.1 1420.8,158.8 1416.2,158.5 1411.6,158.1 1407.1,157.8 1402.5,157.6 1397.9,157.5 1393.3,157.4 1388.8,157.4 1384.2,157.3 1379.6,157.3 1375.1,157.3 1370.5,157.3 1365.9,157.2 1361.4,157.1 1356.8,157 1352.2,156.9 1347.7,156.7 1343.1,156.5 1338.5,156.3 1333.9,156.2 1329.4,156 1324.8,156 1320.2,155.9 1315.7,155.9 1311.1,155.9 1306.5,155.9 1302,156 1297.4,156 1292.8,156.1 1288.2,156.1 1283.7,156.2 1279.1,156.3 1274.5,156.4 1270,156.4 1265.4,156.6 1260.8,156.7 1256.3,156.9 1251.7,157.1 1247.1,157.4 1242.5,157.7 1238,158 1233.4,158.3 1228.8,158.7 1224.3,159.1 1219.7,159.6 1215.1,160.1 1210.6,160.8 1206,161.4 1201.4,162.2 1196.8,162.9 1192.3,163.6 1187.7,164.5 1183.1,165.3 1178.6,166.2 1174,167.2 1169.4,168.2 1164.9,169.2 1160.3,170.2 1155.7,171.2 1151.1,172.2 1146.6,173.3 1142,174.4 1137.4,175.5 1132.9,176.6 1128.3,177.8" fill="#999999" fill-opacity="0.2"/>
<g clip-path="url(#c2)" fill="#1b6ca8" fill-opacity="0.8"><circle cx="1128.5" cy="152.5" r="5.65"/><circle cx="1330.5" cy="127.5" r="5.65"/><circle cx="1643.6" cy="127.5" r="5.65"/><circle cx="1640.2" cy="139.2" r="5.65"/><circle cx="1648.4" cy="159.2" r="5.65"/><circle cx="1671.4" cy="128" r="5.65"/><circle cx="1672.5" cy="154.4" r="5.65"/><circle cx="1696.5" cy="116.4" r="5.65"/><circle cx="1710.5" cy="129.5" r="5.65"/><circle cx="1710.5" cy="168.4" r="5.65"/><circle cx="1720.5" cy="175.5" r="5.65"/><circle cx="1718.4" cy="195.3" r="5.65"/><circle cx="1721.2" cy="117.2" r="5.65"/><circle cx="1727.5" cy="117.2" r="5.65"/><circle cx="1733.8" cy="117.7" r="5.65"/><circle cx="1739" cy="110.9" r="5.65"/><circle cx="1742.6" cy="110.9" r="5.65"/><circle cx="1753.5" cy="118.2" r="5.65"/><circle cx="1746.2" cy="123.4" r="5.65"/><circle cx="1713.4" cy="149.5" r="5.65"/><circle cx="1717.6" cy="149.5" r="5.65"/><circle cx="1725.4" cy="150" r="5.65"/><circle cx="1732.2" cy="163.2" r="5.65"/><circle cx="1737.9" cy="163.8" r="5.65"/><circle cx="1741.6" cy="163.8" r="5.65"/><circle cx="1754.8" cy="164.4" r="5.65"/><circle cx="1759.6" cy="157.3" r="5.65"/><circle cx="1773.3" cy="151.6" r="5.65"/><circle cx="1759.6" cy="177.4" r="5.65"/><circle cx="1771.6" cy="177.4" r="5.65"/><circle cx="1778.5" cy="131.8" r="5.65"/><circle cx="1788.5" cy="131.9" r="5.65"/><circle cx="1788.7" cy="139.8" r="5.65"/><circle cx="1855.7" cy="109.9" r="5.65"/><circle cx="1799.5" cy="113.3" r="5.65"/><circle cx="1796.9" cy="120.3" r="5.65"/><circle cx="1800.5" cy="120.3" r="5.65"/><circle cx="1804.7" cy="120.3" r="5.65"/><circle cx="1801.6" cy="125.5" r="5.65"/><circle cx="1799" cy="131.2" r="5.65"/><circle cx="1801.2" cy="159.6" r="5.65"/><circle cx="1815.1" cy="160.4" r="5.65"/><circle cx="1822.4" cy="160.4" r="5.65"/><circle cx="1814" cy="127.6" r="5.65"/><circle cx="1814" cy="133.3" r="5.65"/><circle cx="1814" cy="140.6" r="5.65"/><circle cx="1814" cy="146.4" r="5.65"/><circle cx="1809.4" cy="140.1" r="5.65"/><circle cx="1828.4" cy="114.1" r="5.65"/><circle cx="1826.6" cy="121.4" r="5.65"/><circle cx="1827.1" cy="127.6" r="5.65"/><circle cx="1827.4" cy="133.9" r="5.65"/><circle cx="1827.4" cy="140.1" r="5.65"/><circle cx="1827.6" cy="146.9" r="5.65"/><circle cx="1827.6" cy="153.1" r="5.65"/><circle cx="1834.7" cy="173.4" r="5.65"/><circle cx="1828.4" cy="180.7" r="5.65"/><circle cx="1808.5" cy="179.4" r="5.65"/><circle cx="1807.3" cy="185.4" r="5.65"/><circle cx="1842.2" cy="135.4" r="5.65"/><circle cx="1842.2" cy="141.7" r="5.65"/><circle cx="1727.5" cy="136" r="5.65"/><circle cx="1747.9" cy="126.6" r="5.65"/><circle cx="1728.4" cy="144.6" r="5.65"/><circle cx="1725" cy="128.6" r="5.65"/><circle cx="1762.8" cy="138.4" r="5.65"/><circle cx="1737.9" cy="136.2" r="5.65"/><circle cx="1750.5" cy="131.5" r="5.65"/><circle cx="1727.9" cy="141.8" r="5.65"/><circle cx="1750.8" cy="136.2" r="5.65"/><circle cx="1757.1" cy="137" r="5.65"/><circle cx="1764.2" cy="130.1" r="5.65"/><circle cx="1745.8" cy="135.7" r="5.65"/><circle cx="1737.2" cy="137.8" r="5.65"/><circle cx="1732.1" cy="142" r="5.65"/><circle cx="1759.3" cy="128.6" r="5.65"/><circle cx="1742.1" cy="131.5" r="5.65"/><circle cx="1725.6" cy="143.9" r="5.65"/><circle cx="1740.5" cy="129" r="5.65"/><circle cx="1751" cy="130" r="5.65"/><circle cx="1760.8" cy="130.3" r="5.65"/><circle cx="1723.4" cy="130" r="5.65"/><circle cx="1736.9" cy="135.4" r="5.65"/><circle cx="1761" cy="139.9" r="5.65"/><circle cx="1736.6" cy="126.3" r="5.65"/><circle cx="1728.9" cy="145.9" r="5.65"/><circle cx="1741.8" cy="139.8" r="5.65"/><circle cx="1724.4" cy="126.7" r="5.65"/><circle cx="1758.4" cy="137.8" r="5.65"/><circle cx="1735.3" cy="132.3" r="5.65"/><circle cx="1725.8" cy="129.5" r="5.65"/><circle cx="1723.1" cy="142.8" r="5.65"/><circle cx="1742.1" cy="128.5" r="5.65"/><circle cx="1753.8" cy="129.9" r="5.65"/><circle cx="1724.7" cy="138" r="5.65"/><circle cx="1760.5" cy="126.5" r="5.65"/><circle cx="1756.6" cy="129.8" r="5.65"/><circle cx="1726" cy="126.4" r="5.65"/><circle cx="1734.6" cy="140.5" r="5.65"/><circle cx="1743.2" cy="143.1" r="5.65"/><circle cx="1731.3" cy="132.3" r="5.65"/><circle cx="1733.1" cy="145.6" r="5.65"/><circle cx="1762.5" cy="132.8" r="5.65"/><circle cx="1740.7" cy="132.3" r="5.65"/><circle cx="1754.1" cy="126.8" r="5.65"/><circle cx="1724.9" cy="134.1" r="5.65"/><circle cx="1732.5" cy="142.9" r="5.65"/><circle cx="1753.9" cy="136.9" r="5.65"/><circle cx="1750.4" cy="139.8" r="5.65"/><circle cx="1755.6" cy="144.6" r="5.65"/><circle cx="1728.4" cy="138.5" r="5.65"/><circle cx="1738.9" cy="152.6" r="5.65"/><circle cx="1747.2" cy="159.4" r="5.65"/><circle cx="1746.9" cy="146.5" r="5.65"/><circle cx="1741.7" cy="148.4" r="5.65"/><circle cx="1750" cy="148.2" r="5.65"/><circle cx="1740.2" cy="151.4" r="5.65"/><circle cx="1737.8" cy="159.1" r="5.65"/><circle cx="1745.3" cy="148.4" r="5.65"/><circle cx="1743.5" cy="147.2" r="5.65"/><circle cx="1744.9" cy="149.5" r="5.65"/><circle cx="1737.5" cy="147.7" r="5.65"/><circle cx="1744.2" cy="155.6" r="5.65"/><circle cx="1741.2" cy="155.7" r="5.65"/><circle cx="1741.6" cy="148" r="5.65"/><circle cx="1735.6" cy="121.2" r="5.65"/><circle cx="1749.9" cy="118.9" r="5.65"/><circle cx="1730.1" cy="122.5" r="5.65"/><circle cx="1751.1" cy="125.3" r="5.65"/><circle cx="1744.8" cy="118.5" r="5.65"/><circle cx="1747.4" cy="123.5" r="5.65"/><circle cx="1731.5" cy="121.7" r="5.65"/><circle cx="1729.2" cy="124.4" r="5.65"/></g>
<polyline points="1128.6,151 1162.5,146.2 1201.6,141.6 1248.4,138.8 1311,136.6 1381.2,136.6 1400,137.5 1442.5,138.8 1481.6,140 1528.4,140.9 1600,141 1680,140.5 1710,139.1 1728.8,137.2 1743.8,137.2 1755,140.2 1785,139.9 1815,139.6 1837.5,139.1 1845,137 1854.9,133.9" fill="none" stroke="#3aaf85" stroke-width="3.8" stroke-linejoin="round"/>
<line x1="1091.8" y1="138.9" x2="1891.7" y2="138.9" stroke="#000" stroke-width="2.3" stroke-dasharray="8 8"/>
<line x1="1092.4" y1="105" x2="1092.4" y2="199.2" stroke="#c7c7c7" stroke-width="1.9"/>
<line x1="1091.5" y1="198.4" x2="1891.7" y2="198.4" stroke="#c7c7c7" stroke-width="1.9"/>
<text transform="translate(1079.5 117.45) scale(1 1.04)" font-size="27.2" fill="#7f7f7f" text-anchor="end">5</text>
<text transform="translate(1079.5 150.1) scale(1 1.04)" font-size="27.2" fill="#7f7f7f" text-anchor="end">0</text>
<text transform="translate(1079.5 182.75) scale(1 1.04)" font-size="27.2" fill="#7f7f7f" text-anchor="end">-5</text>
<text transform="translate(1146 232.75) scale(1 1.04)" font-size="27.2" fill="#7f7f7f" text-anchor="middle">5</text>
<text transform="translate(1309 232.75) scale(1 1.04)" font-size="27.2" fill="#7f7f7f" text-anchor="middle">6</text>
<text transform="translate(1472 232.75) scale(1 1.04)" font-size="27.2" fill="#7f7f7f" text-anchor="middle">7</text>
<text transform="translate(1635 232.75) scale(1 1.04)" font-size="27.2" fill="#7f7f7f" text-anchor="middle">8</text>
<text transform="translate(1798 232.75) scale(1 1.04)" font-size="27.2" fill="#7f7f7f" text-anchor="middle">9</text>
<text transform="translate(1492.4 272.75) scale(1 1.04)" font-size="29.05" fill="#4d4d4d" text-anchor="middle">Fitted values</text>
<text transform="translate(1015.3 152) rotate(-90) scale(1 1.04)" font-size="28.7" fill="#4d4d4d" text-anchor="middle">Residuals</text>
<text transform="translate(991.4 51.6) scale(1 1.04)" font-size="31.6" fill="#000" text-anchor="start">Linearity</text>
<text transform="translate(991.7 86.6) scale(1 1.04)" font-size="27.25" fill="#000" text-anchor="start">Reference line should be flat and horizontal</text>
<defs>
<clipPath id="c3"><rect x="165" y="428.9" width="800" height="93.6"/></clipPath>
</defs>
<line x1="165" y1="429.8" x2="965" y2="429.8" stroke="#ebebeb" stroke-width="1.95"/>
<line x1="165" y1="440.2" x2="965" y2="440.2" stroke="#ebebeb" stroke-width="1.95"/>
<line x1="165" y1="450.6" x2="965" y2="450.6" stroke="#ebebeb" stroke-width="1.95"/>
<line x1="165" y1="461" x2="965" y2="461" stroke="#ebebeb" stroke-width="1.95"/>
<line x1="165" y1="471.4" x2="965" y2="471.4" stroke="#ebebeb" stroke-width="1.95"/>
<line x1="165" y1="481.8" x2="965" y2="481.8" stroke="#ebebeb" stroke-width="1.95"/>
<line x1="165" y1="492.2" x2="965" y2="492.2" stroke="#ebebeb" stroke-width="1.95"/>
<line x1="165" y1="502.6" x2="965" y2="502.6" stroke="#ebebeb" stroke-width="1.95"/>
<line x1="165" y1="513" x2="965" y2="513" stroke="#ebebeb" stroke-width="1.95"/>
<line x1="218.5" y1="428.9" x2="218.5" y2="522.5" stroke="#ebebeb" stroke-width="1.95"/>
<line x1="300.1" y1="428.9" x2="300.1" y2="522.5" stroke="#ebebeb" stroke-width="1.95"/>
<line x1="381.7" y1="428.9" x2="381.7" y2="522.5" stroke="#ebebeb" stroke-width="1.95"/>
<line x1="463.3" y1="428.9" x2="463.3" y2="522.5" stroke="#ebebeb" stroke-width="1.95"/>
<line x1="544.9" y1="428.9" x2="544.9" y2="522.5" stroke="#ebebeb" stroke-width="1.95"/>
<line x1="626.5" y1="428.9" x2="626.5" y2="522.5" stroke="#ebebeb" stroke-width="1.95"/>
<line x1="708.1" y1="428.9" x2="708.1" y2="522.5" stroke="#ebebeb" stroke-width="1.95"/>
<line x1="789.7" y1="428.9" x2="789.7" y2="522.5" stroke="#ebebeb" stroke-width="1.95"/>
<line x1="871.3" y1="428.9" x2="871.3" y2="522.5" stroke="#ebebeb" stroke-width="1.95"/>
<line x1="952.9" y1="428.9" x2="952.9" y2="522.5" stroke="#ebebeb" stroke-width="1.95"/>
<polygon points="202.3,443.9 206.9,444.5 211.4,445.2 216,445.9 220.6,446.5 225.1,447.3 229.7,448.2 234.3,449 238.8,449.6 243.4,450 248,450.2 252.5,450.3 257.1,450.5 261.7,450.6 266.3,450.7 270.8,450.8 275.4,450.9 280,450.9 284.5,451 289.1,451 293.7,451 298.2,450.9 302.8,450.8 307.4,450.6 311.9,450.4 316.5,450.2 321.1,450 325.6,449.8 330.2,449.6 334.8,449.3 339.3,449.1 343.9,448.7 348.5,448.4 353,448.1 357.6,447.7 362.2,447.3 366.7,447 371.3,446.6 375.9,446.2 380.4,445.8 385,445.4 389.6,445.1 394.2,444.7 398.7,444.3 403.3,443.9 407.9,443.4 412.4,443 417,442.6 421.6,442.1 426.1,441.7 430.7,441.2 435.3,440.8 439.8,440.3 444.4,439.8 449,439.3 453.5,438.8 458.1,438.3 462.7,437.8 467.2,437.3 471.8,436.8 476.4,436.4 480.9,436 485.5,435.6 490.1,435.3 494.6,435 499.2,434.7 503.8,434.4 508.4,434.2 512.9,434 517.5,433.8 522.1,433.7 526.6,433.5 531.2,433.4 535.8,433.4 540.3,433.3 544.9,433.3 549.5,433.2 554,433.1 558.6,433.1 563.2,433.1 567.7,433 572.3,433 576.9,433 581.4,433 586,433.1 590.6,433.2 595.1,433.4 599.7,433.7 604.3,434 608.8,434.3 613.4,434.6 618,435 622.5,435.4 627.1,435.8 631.7,436.3 636.3,436.9 640.8,437.4 645.4,438 650,438.6 654.5,439.2 659.1,439.8 663.7,440.5 668.2,441.2 672.8,442 677.4,442.8 681.9,443.8 686.5,444.7 691.1,445.8 695.6,446.9 700.2,448 704.8,449.2 709.3,450.4 713.9,451.8 718.5,453.3 723,454.7 727.6,456.1 732.2,457.4 736.7,458.7 741.3,460.1 745.9,461.6 750.5,463.1 755,464.7 759.6,466.3 764.2,468 768.7,469.8 773.3,471.8 777.9,474.1 782.4,476.5 787,478.9 791.6,481.2 796.1,483.3 800.7,485.8 805.3,488.2 809.8,490.3 814.4,491.6 819,492.1 823.5,492.3 828.1,492.4 832.7,492.5 837.2,492.6 841.8,492.6 846.4,491.9 850.9,490.6 855.5,489.1 860.1,487.8 864.6,486.9 869.2,486.4 873.8,486.1 878.4,485.8 882.9,485.4 887.5,485 892.1,484.5 896.6,484.1 901.2,483.5 905.8,482.7 910.3,481.3 914.9,479.1 919.5,476.7 924,473.9 928.6,470.8 928.6,505.2 924,502.9 919.5,500.7 914.9,498.4 910.3,495.9 905.8,494.3 901.2,493.4 896.6,492.7 892.1,492.2 887.5,492 882.9,492.2 878.4,492.7 873.8,493.5 869.2,494.3 864.6,495.1 860.1,496 855.5,497.1 850.9,498.2 846.4,499.1 841.8,499.6 837.2,499.6 832.7,499.4 828.1,499.2 823.5,498.9 819,498.5 814.4,498.1 809.8,497.4 805.3,496.5 800.7,495.6 796.1,494.6 791.6,493.8 787,493 782.4,492.2 777.9,491.4 773.3,490.6 768.7,489.7 764.2,488.7 759.6,487.7 755,486.7 750.5,485.8 745.9,485.2 741.3,484.6 736.7,484.1 732.2,483.7 727.6,483.3 723,483 718.5,482.7 713.9,482.4 709.3,482.1 704.8,481.9 700.2,481.6 695.6,481.4 691.1,481.3 686.5,481.1 681.9,480.9 677.4,480.7 672.8,480.5 668.2,480.3 663.7,480.1 659.1,479.9 654.5,479.8 650,479.6 645.4,479.5 640.8,479.4 636.3,479.3 631.7,479.2 627.1,479.1 622.5,479 618,478.9 613.4,478.9 608.8,478.8 604.3,478.8 599.7,478.8 595.1,478.8 590.6,478.8 586,478.8 581.4,478.8 576.9,478.8 572.3,478.8 567.7,478.9 563.2,478.9 558.6,478.9 554,479 549.5,479 544.9,479.1 540.3,479.1 535.8,479.3 531.2,479.4 526.6,479.5 522.1,479.7 517.5,479.8 512.9,480 508.4,480.1 503.8,480.3 499.2,480.5 494.6,480.7 490.1,480.9 485.5,481.1 480.9,481.3 476.4,481.5 471.8,481.8 467.2,482.1 462.7,482.4 458.1,482.7 453.5,483 449,483.3 444.4,483.7 439.8,484 435.3,484.3 430.7,484.7 426.1,485.1 421.6,485.4 417,485.8 412.4,486.2 407.9,486.6 403.3,486.9 398.7,487.3 394.2,487.7 389.6,488 385,488.4 380.4,488.7 375.9,489 371.3,489.3 366.7,489.6 362.2,490 357.6,490.3 353,490.6 348.5,490.8 343.9,491.1 339.3,491.4 334.8,491.7 330.2,491.9 325.6,492.1 321.1,492.3 316.5,492.5 311.9,492.7 307.4,493 302.8,493.2 298.2,493.4 293.7,493.7 289.1,494 284.5,494.3 280,494.6 275.4,494.9 270.8,495.3 266.3,495.7 261.7,496.1 257.1,496.5 252.5,496.9 248,497.4 243.4,497.8 238.8,498.3 234.3,498.8 229.7,499.3 225.1,499.8 220.6,500.4 216,501 211.4,501.6 206.9,502.2 202.3,502.8" fill="#999999" fill-opacity="0.2"/>
<g clip-path="url(#c3)" fill="#1b6ca8" fill-opacity="0.8"><circle cx="202.3" cy="473.6" r="5.65"/><circle cx="403.4" cy="481.4" r="5.65"/><circle cx="713.3" cy="518.1" r="5.65"/><circle cx="717.2" cy="484.2" r="5.65"/><circle cx="721.4" cy="473.6" r="5.65"/><circle cx="745.8" cy="480.6" r="5.65"/><circle cx="769.4" cy="470.4" r="5.65"/><circle cx="791.6" cy="441.4" r="5.65"/><circle cx="794.5" cy="457.3" r="5.65"/><circle cx="783.5" cy="464.4" r="5.65"/><circle cx="794.5" cy="471.4" r="5.65"/><circle cx="832.5" cy="456.2" r="5.65"/><circle cx="844.5" cy="455.5" r="5.65"/><circle cx="811.7" cy="463.5" r="5.65"/><circle cx="816.4" cy="465.1" r="5.65"/><circle cx="828.9" cy="469.8" r="5.65"/><circle cx="832.5" cy="476.6" r="5.65"/><circle cx="846.6" cy="485.4" r="5.65"/><circle cx="783.5" cy="488.5" r="5.65"/><circle cx="787.7" cy="490.1" r="5.65"/><circle cx="792.4" cy="490.1" r="5.65"/><circle cx="852.3" cy="494.8" r="5.65"/><circle cx="862.7" cy="494.8" r="5.65"/><circle cx="862.7" cy="517.2" r="5.65"/><circle cx="815.3" cy="513.5" r="5.65"/><circle cx="797.6" cy="503.6" r="5.65"/><circle cx="803.3" cy="504.2" r="5.65"/><circle cx="809.6" cy="505.7" r="5.65"/><circle cx="815.8" cy="506.8" r="5.65"/><circle cx="822" cy="507.3" r="5.65"/><circle cx="828.3" cy="508.3" r="5.65"/><circle cx="836.7" cy="510.4" r="5.65"/><circle cx="842.9" cy="512" r="5.65"/><circle cx="847.6" cy="513" r="5.65"/><circle cx="881.6" cy="448.1" r="5.65"/><circle cx="882.5" cy="454.5" r="5.65"/><circle cx="902.4" cy="453.1" r="5.65"/><circle cx="907.6" cy="458.3" r="5.65"/><circle cx="929.7" cy="462.3" r="5.65"/><circle cx="872.4" cy="467.4" r="5.65"/><circle cx="902.4" cy="468" r="5.65"/><circle cx="870.3" cy="474.5" r="5.65"/><circle cx="874.5" cy="475" r="5.65"/><circle cx="877.6" cy="475" r="5.65"/><circle cx="889.1" cy="473.4" r="5.65"/><circle cx="895.8" cy="473.4" r="5.65"/><circle cx="900" cy="476" r="5.65"/><circle cx="875" cy="483.3" r="5.65"/><circle cx="888" cy="483.9" r="5.65"/><circle cx="900.5" cy="482.3" r="5.65"/><circle cx="901" cy="486.5" r="5.65"/><circle cx="872.9" cy="495.3" r="5.65"/><circle cx="888" cy="496.9" r="5.65"/><circle cx="901" cy="497.9" r="5.65"/><circle cx="901" cy="493.8" r="5.65"/><circle cx="915.6" cy="499.2" r="5.65"/><circle cx="915.6" cy="509.4" r="5.65"/><circle cx="901" cy="511.5" r="5.65"/><circle cx="897.4" cy="512.5" r="5.65"/><circle cx="889.1" cy="514.6" r="5.65"/><circle cx="881.8" cy="516.7" r="5.65"/><circle cx="829.1" cy="494.7" r="5.65"/><circle cx="818.8" cy="477.4" r="5.65"/><circle cx="802.4" cy="480.7" r="5.65"/><circle cx="815" cy="469.5" r="5.65"/><circle cx="802.2" cy="501" r="5.65"/><circle cx="823.7" cy="475.7" r="5.65"/><circle cx="815.9" cy="500.1" r="5.65"/><circle cx="832.4" cy="495.9" r="5.65"/><circle cx="814.4" cy="484.3" r="5.65"/><circle cx="824.5" cy="470" r="5.65"/><circle cx="820.2" cy="477" r="5.65"/><circle cx="831.7" cy="470.1" r="5.65"/><circle cx="824.6" cy="496.7" r="5.65"/><circle cx="808.6" cy="497.5" r="5.65"/><circle cx="831.5" cy="468.6" r="5.65"/><circle cx="825.6" cy="468" r="5.65"/><circle cx="818.4" cy="482.4" r="5.65"/><circle cx="807.7" cy="478.7" r="5.65"/><circle cx="829.1" cy="478.4" r="5.65"/><circle cx="805.8" cy="491.1" r="5.65"/><circle cx="816.4" cy="494.4" r="5.65"/><circle cx="808.9" cy="478.6" r="5.65"/><circle cx="828.9" cy="484.7" r="5.65"/><circle cx="818.5" cy="475.8" r="5.65"/><circle cx="801" cy="498.8" r="5.65"/><circle cx="803.5" cy="495.9" r="5.65"/><circle cx="813.6" cy="499.4" r="5.65"/><circle cx="814.7" cy="498.9" r="5.65"/><circle cx="820.2" cy="475.9" r="5.65"/><circle cx="826.8" cy="490.3" r="5.65"/><circle cx="824.8" cy="483.3" r="5.65"/><circle cx="808.4" cy="489.2" r="5.65"/><circle cx="804.3" cy="490.8" r="5.65"/><circle cx="823.1" cy="480.4" r="5.65"/><circle cx="828.8" cy="474.4" r="5.65"/><circle cx="814.4" cy="494.3" r="5.65"/><circle cx="814" cy="491.5" r="5.65"/><circle cx="822.2" cy="499.1" r="5.65"/><circle cx="835.7" cy="491.9" r="5.65"/><circle cx="829.2" cy="473" r="5.65"/><circle cx="825.8" cy="496" r="5.65"/><circle cx="814.7" cy="486.3" r="5.65"/><circle cx="817.5" cy="499.6" r="5.65"/><circle cx="811.8" cy="481.3" r="5.65"/><circle cx="800.5" cy="481.9" r="5.65"/><circle cx="822.9" cy="498.9" r="5.65"/><circle cx="833.3" cy="478.8" r="5.65"/><circle cx="835.6" cy="474.2" r="5.65"/><circle cx="829.7" cy="473.2" r="5.65"/><circle cx="814.9" cy="470.4" r="5.65"/><circle cx="831" cy="495.4" r="5.65"/><circle cx="805.5" cy="485.4" r="5.65"/><circle cx="809.7" cy="484.2" r="5.65"/><circle cx="820.1" cy="471.5" r="5.65"/><circle cx="831.2" cy="477.2" r="5.65"/><circle cx="816.4" cy="469.9" r="5.65"/><circle cx="800.6" cy="474.4" r="5.65"/><circle cx="812.6" cy="498.6" r="5.65"/><circle cx="832.1" cy="483.9" r="5.65"/><circle cx="816.6" cy="490" r="5.65"/><circle cx="831" cy="479.1" r="5.65"/><circle cx="828.7" cy="481.2" r="5.65"/><circle cx="821.6" cy="492.3" r="5.65"/><circle cx="818.3" cy="490.8" r="5.65"/><circle cx="825.3" cy="468.2" r="5.65"/><circle cx="801.9" cy="472.9" r="5.65"/><circle cx="808.1" cy="474.7" r="5.65"/><circle cx="802.2" cy="475.2" r="5.65"/><circle cx="821.8" cy="497.2" r="5.65"/><circle cx="812.9" cy="480.1" r="5.65"/><circle cx="815.3" cy="490.5" r="5.65"/><circle cx="828.4" cy="499.1" r="5.65"/><circle cx="813.8" cy="491.3" r="5.65"/><circle cx="812.6" cy="495.2" r="5.65"/><circle cx="808.7" cy="496.7" r="5.65"/><circle cx="818.4" cy="491.9" r="5.65"/><circle cx="819.5" cy="478.4" r="5.65"/><circle cx="818" cy="469.7" r="5.65"/><circle cx="802" cy="485.5" r="5.65"/><circle cx="817.4" cy="495.5" r="5.65"/><circle cx="834.2" cy="495.7" r="5.65"/><circle cx="837.9" cy="496.2" r="5.65"/><circle cx="839.8" cy="495.3" r="5.65"/><circle cx="838.5" cy="494.9" r="5.65"/><circle cx="838.9" cy="492" r="5.65"/><circle cx="838.4" cy="497.1" r="5.65"/><circle cx="835.5" cy="500.9" r="5.65"/><circle cx="840" cy="500.5" r="5.65"/><circle cx="809.6" cy="504.3" r="5.65"/><circle cx="808.2" cy="501.2" r="5.65"/><circle cx="797.7" cy="501.4" r="5.65"/><circle cx="834" cy="505.2" r="5.65"/><circle cx="826.7" cy="504.9" r="5.65"/><circle cx="799.8" cy="501.3" r="5.65"/><circle cx="826.2" cy="506.8" r="5.65"/><circle cx="820.6" cy="505.7" r="5.65"/><circle cx="808.8" cy="504.6" r="5.65"/><circle cx="836.7" cy="505.8" r="5.65"/><circle cx="828.5" cy="505.2" r="5.65"/><circle cx="805.3" cy="502.9" r="5.65"/><circle cx="801" cy="507" r="5.65"/><circle cx="812.7" cy="502.7" r="5.65"/><circle cx="797" cy="500" r="5.65"/><circle cx="806.2" cy="503.7" r="5.65"/><circle cx="822.9" cy="510" r="5.65"/><circle cx="835.3" cy="505.9" r="5.65"/><circle cx="823.3" cy="509.6" r="5.65"/><circle cx="801.4" cy="506.4" r="5.65"/><circle cx="814" cy="507.4" r="5.65"/><circle cx="810.9" cy="505.9" r="5.65"/><circle cx="818.8" cy="502.9" r="5.65"/><circle cx="829.7" cy="509.6" r="5.65"/><circle cx="817.8" cy="504.9" r="5.65"/><circle cx="837.7" cy="507.2" r="5.65"/></g>
<polyline points="202.3,473.4 205.9,473.5 209.6,473.6 213.2,473.7 216.9,473.7 220.5,473.8 224.2,473.8 227.8,473.9 231.5,473.9 235.1,473.9 238.8,473.9 242.4,474 246.1,474 249.7,474 253.4,474 257,474 260.7,474 264.3,474 268,473.9 271.6,473.7 275.3,473.6 278.9,473.4 282.6,473.1 286.2,472.9 289.9,472.6 293.5,472.4 297.2,472.2 300.8,471.9 304.5,471.7 308.1,471.5 311.8,471.3 315.4,471.1 319.1,470.8 322.7,470.6 326.4,470.4 330,470.2 333.7,469.9 337.3,469.7 341,469.5 344.6,469.2 348.3,469 351.9,468.8 355.6,468.5 359.2,468.3 362.9,468.1 366.5,467.8 370.2,467.6 373.8,467.3 377.5,467.1 381.1,466.8 384.8,466.6 388.4,466.3 392.1,466 395.7,465.7 399.4,465.4 403,465.1 406.7,464.8 410.3,464.5 414,464.1 417.6,463.8 421.3,463.5 424.9,463.2 428.6,462.9 432.2,462.5 435.9,462.2 439.5,461.9 443.2,461.6 446.8,461.4 450.5,461.1 454.1,460.8 457.8,460.5 461.4,460.2 465.1,460 468.7,459.7 472.4,459.4 476,459.2 479.7,458.9 483.3,458.6 487,458.3 490.6,458.1 494.3,457.9 497.9,457.6 501.6,457.4 505.2,457.3 508.9,457.1 512.5,456.9 516.2,456.8 519.8,456.6 523.5,456.5 527.1,456.3 530.8,456.2 534.4,456.1 538.1,456 541.7,456 545.4,456 549,455.9 552.7,455.9 556.3,455.9 560,455.9 563.6,455.8 567.3,455.8 570.9,455.8 574.6,455.8 578.2,455.8 581.9,455.8 585.5,455.8 589.2,455.8 592.8,455.9 596.5,455.9 600.1,455.9 603.8,456 607.4,456 611.1,456.1 614.7,456.2 618.4,456.3 622,456.5 625.7,456.7 629.3,457 633,457.2 636.6,457.5 640.3,457.8 643.9,458.1 647.6,458.4 651.2,458.7 654.9,459 658.5,459.4 662.2,459.7 665.8,460.1 669.5,460.5 673.1,461 676.8,461.4 680.4,461.8 684.1,462.3 687.7,462.8 691.4,463.3 695,463.8 698.7,464.4 702.3,465 706,465.6 709.6,466.2 713.3,466.9 716.9,467.6 720.6,468.3 724.2,469.1 727.9,469.8 731.5,470.5 735.2,471.3 738.8,472.1 742.5,472.9 746.1,473.8 749.8,474.7 753.4,475.7 757.1,476.7 760.7,477.8 764.4,478.9 768,479.9 771.7,481 775.3,482.1 779,483.2 782.6,484.3 786.3,485.4 789.9,486.6 793.6,487.6 797.2,488.8 800.9,490 804.5,491.2 808.2,492.3 811.8,493.3 815.5,494.1 819.1,494.7 822.8,495.2 826.4,495.7 830.1,496 833.7,496.1 837.4,495.8 841,495.3 844.7,494.8 848.3,494.1 852,493.3 855.6,492.5 859.3,491.6 862.9,491 866.6,490.4 870.2,489.9 873.9,489.5 877.5,489 881.2,488.7 884.8,488.4 888.5,488.3 892.1,488.2 895.8,488.1 899.4,488 903.1,487.9 906.7,487.9 910.4,487.9 914,487.8 917.7,487.8 921.3,487.8 925,487.8 928.6,487.8" fill="none" stroke="#3aaf85" stroke-width="4.0" stroke-linejoin="round"/>
<line x1="165" y1="428.6" x2="165" y2="523.4" stroke="#c7c7c7" stroke-width="1.9"/>
<line x1="164.1" y1="522.6" x2="965" y2="522.6" stroke="#c7c7c7" stroke-width="1.9"/>
<text transform="translate(152.8 451.1) scale(1 1.04)" font-size="27.2" fill="#7f7f7f" text-anchor="end">2.0</text>
<text transform="translate(152.8 471.9) scale(1 1.04)" font-size="27.2" fill="#7f7f7f" text-anchor="end">1.5</text>
<text transform="translate(152.8 492.7) scale(1 1.04)" font-size="27.2" fill="#7f7f7f" text-anchor="end">1.0</text>
<text transform="translate(152.8 513.5) scale(1 1.04)" font-size="27.2" fill="#7f7f7f" text-anchor="end">0.5</text>
<text transform="translate(218.5 556.9) scale(1 1.04)" font-size="27.2" fill="#7f7f7f" text-anchor="middle">5</text>
<text transform="translate(381.7 556.9) scale(1 1.04)" font-size="27.2" fill="#7f7f7f" text-anchor="middle">6</text>
<text transform="translate(544.9 556.9) scale(1 1.04)" font-size="27.2" fill="#7f7f7f" text-anchor="middle">7</text>
<text transform="translate(708.1 556.9) scale(1 1.04)" font-size="27.2" fill="#7f7f7f" text-anchor="middle">8</text>
<text transform="translate(871.3 556.9) scale(1 1.04)" font-size="27.2" fill="#7f7f7f" text-anchor="middle">9</text>
<text transform="translate(565.5 599.75) scale(1 1.04)" font-size="29.05" fill="#4d4d4d" text-anchor="middle">Fitted values</text>
<text transform="translate(65.6 469.7) rotate(-90) scale(1 1.04)" font-size="28.7" fill="#4d4d4d" text-anchor="middle">|Std. residuals|</text>
<polyline points="36.9,371.2 36.9,568.3 71.6,574.1 57.5,578.4 59.3,581.3" fill="none" stroke="#4d4d4d" stroke-width="1.9"/>
<text transform="translate(26.6 375.5) scale(1 1.04)" font-size="31.6" fill="#000" text-anchor="start">Homogeneity of Variance</text>
<text transform="translate(26.9 410.5) scale(1 1.04)" font-size="27.25" fill="#000" text-anchor="start">Reference line should be flat and horizontal</text>
<defs>
<clipPath id="c4"><rect x="1092.2" y="428.2" width="799.5" height="94.3"/></clipPath>
</defs>
<line x1="1092.2" y1="429.1" x2="1891.7" y2="429.1" stroke="#ebebeb" stroke-width="1.95"/>
<line x1="1092.2" y1="438.4" x2="1891.7" y2="438.4" stroke="#ebebeb" stroke-width="1.95"/>
<line x1="1092.2" y1="447.8" x2="1891.7" y2="447.8" stroke="#ebebeb" stroke-width="1.95"/>
<line x1="1092.2" y1="457.1" x2="1891.7" y2="457.1" stroke="#ebebeb" stroke-width="1.95"/>
<line x1="1092.2" y1="466.4" x2="1891.7" y2="466.4" stroke="#ebebeb" stroke-width="1.95"/>
<line x1="1092.2" y1="475.8" x2="1891.7" y2="475.8" stroke="#ebebeb" stroke-width="1.95"/>
<line x1="1092.2" y1="485.2" x2="1891.7" y2="485.2" stroke="#ebebeb" stroke-width="1.95"/>
<line x1="1092.2" y1="494.5" x2="1891.7" y2="494.5" stroke="#ebebeb" stroke-width="1.95"/>
<line x1="1092.2" y1="503.9" x2="1891.7" y2="503.9" stroke="#ebebeb" stroke-width="1.95"/>
<line x1="1092.2" y1="513.2" x2="1891.7" y2="513.2" stroke="#ebebeb" stroke-width="1.95"/>
<line x1="1128" y1="428.2" x2="1128" y2="522.5" stroke="#ebebeb" stroke-width="1.95"/>
<line x1="1238.3" y1="428.2" x2="1238.3" y2="522.5" stroke="#ebebeb" stroke-width="1.95"/>
<line x1="1348.6" y1="428.2" x2="1348.6" y2="522.5" stroke="#ebebeb" stroke-width="1.95"/>
<line x1="1458.9" y1="428.2" x2="1458.9" y2="522.5" stroke="#ebebeb" stroke-width="1.95"/>
<line x1="1569.2" y1="428.2" x2="1569.2" y2="522.5" stroke="#ebebeb" stroke-width="1.95"/>
<line x1="1679.5" y1="428.2" x2="1679.5" y2="522.5" stroke="#ebebeb" stroke-width="1.95"/>
<line x1="1789.8" y1="428.2" x2="1789.8" y2="522.5" stroke="#ebebeb" stroke-width="1.95"/>
<line x1="1128" y1="522.5" x2="1128" y2="428.2" stroke="#a6a6a6" stroke-width="1.7" stroke-dasharray="8 8"/>
<line x1="1092.2" y1="475.8" x2="1891.7" y2="475.8" stroke="#a6a6a6" stroke-width="1.7" stroke-dasharray="8 8"/>
<g clip-path="url(#c4)" fill="#1b6ca8" fill-opacity="0.8"><circle cx="1134.8" cy="482.9" r="4.4"/><circle cx="1146.9" cy="479" r="4.4"/><circle cx="1137" cy="478.3" r="4.4"/><circle cx="1137.8" cy="478.3" r="4.4"/><circle cx="1143.1" cy="471.3" r="4.4"/><circle cx="1138" cy="478.5" r="4.4"/><circle cx="1136.2" cy="479.2" r="4.4"/><circle cx="1138.6" cy="478.6" r="4.4"/><circle cx="1142.2" cy="478.3" r="4.4"/><circle cx="1136.4" cy="478.2" r="4.4"/><circle cx="1133.8" cy="474.8" r="4.4"/><circle cx="1142.1" cy="478.8" r="4.4"/><circle cx="1139.9" cy="476.8" r="4.4"/><circle cx="1139.3" cy="478.4" r="4.4"/><circle cx="1134.1" cy="475.9" r="4.4"/><circle cx="1147" cy="479.7" r="4.4"/><circle cx="1147.4" cy="476.1" r="4.4"/><circle cx="1135.7" cy="477.7" r="4.4"/><circle cx="1134.9" cy="483.4" r="4.4"/><circle cx="1153.7" cy="479.7" r="4.4"/><circle cx="1146.4" cy="477.3" r="4.4"/><circle cx="1140.8" cy="478.7" r="4.4"/><circle cx="1137.4" cy="477.8" r="4.4"/><circle cx="1135.6" cy="476.4" r="4.4"/><circle cx="1140.4" cy="475.7" r="4.4"/><circle cx="1135.7" cy="479.7" r="4.4"/><circle cx="1134.9" cy="476.7" r="4.4"/><circle cx="1139.5" cy="479.4" r="4.4"/><circle cx="1144.6" cy="482.8" r="4.4"/><circle cx="1135.7" cy="476.9" r="4.4"/><circle cx="1150.6" cy="477.7" r="4.4"/><circle cx="1159.4" cy="476.4" r="4.4"/><circle cx="1138.9" cy="479.7" r="4.4"/><circle cx="1134.5" cy="475.6" r="4.4"/><circle cx="1141.2" cy="479.1" r="4.4"/><circle cx="1135.2" cy="480.2" r="4.4"/><circle cx="1136.8" cy="479.9" r="4.4"/><circle cx="1137" cy="477.9" r="4.4"/><circle cx="1135.6" cy="481.2" r="4.4"/><circle cx="1143.4" cy="476.4" r="4.4"/><circle cx="1152.8" cy="475.6" r="4.4"/><circle cx="1142.7" cy="479.1" r="4.4"/><circle cx="1134.1" cy="479.4" r="4.4"/><circle cx="1135" cy="480.7" r="4.4"/><circle cx="1162.9" cy="478.5" r="4.4"/><circle cx="1138.9" cy="476.7" r="4.4"/><circle cx="1135.4" cy="481.3" r="4.4"/><circle cx="1138.7" cy="475.5" r="4.4"/><circle cx="1144.1" cy="477.4" r="4.4"/><circle cx="1143.1" cy="477.3" r="4.4"/><circle cx="1153.4" cy="476.3" r="4.4"/><circle cx="1160" cy="477.6" r="4.4"/><circle cx="1156.8" cy="476.8" r="4.4"/><circle cx="1145.1" cy="472.9" r="4.4"/><circle cx="1137.6" cy="474.9" r="4.4"/><circle cx="1135.2" cy="478.5" r="4.4"/><circle cx="1135" cy="482.3" r="4.4"/><circle cx="1144.5" cy="475.8" r="4.4"/><circle cx="1149.8" cy="479.8" r="4.4"/><circle cx="1144.9" cy="477.8" r="4.4"/><circle cx="1141.5" cy="473.8" r="4.4"/><circle cx="1147.2" cy="476.4" r="4.4"/><circle cx="1136.6" cy="474.4" r="4.4"/><circle cx="1139.4" cy="475.2" r="4.4"/><circle cx="1137.3" cy="478.2" r="4.4"/><circle cx="1148.8" cy="474.9" r="4.4"/><circle cx="1135.6" cy="478.5" r="4.4"/><circle cx="1139.6" cy="476.9" r="4.4"/><circle cx="1140.7" cy="479.7" r="4.4"/><circle cx="1158.6" cy="473" r="4.4"/><circle cx="1136.9" cy="478.9" r="4.4"/><circle cx="1148.3" cy="480.5" r="4.4"/><circle cx="1149.8" cy="476.2" r="4.4"/><circle cx="1135" cy="477.2" r="4.4"/><circle cx="1150.6" cy="477.6" r="4.4"/><circle cx="1145.7" cy="477.6" r="4.4"/><circle cx="1136.2" cy="478.8" r="4.4"/><circle cx="1136.3" cy="478.5" r="4.4"/><circle cx="1161.6" cy="478.7" r="4.4"/><circle cx="1134.2" cy="476.3" r="4.4"/><circle cx="1141.4" cy="474.5" r="4.4"/><circle cx="1139.5" cy="476.2" r="4.4"/><circle cx="1153.4" cy="477.6" r="4.4"/><circle cx="1145.8" cy="475.7" r="4.4"/><circle cx="1143.7" cy="477.6" r="4.4"/><circle cx="1142.6" cy="478.4" r="4.4"/><circle cx="1140.4" cy="476.3" r="4.4"/><circle cx="1149.8" cy="473.6" r="4.4"/><circle cx="1140.1" cy="473.6" r="4.4"/><circle cx="1133.7" cy="478.6" r="4.4"/><circle cx="1154.4" cy="476.4" r="4.4"/><circle cx="1141.1" cy="477.1" r="4.4"/><circle cx="1156.6" cy="479.2" r="4.4"/><circle cx="1136.4" cy="479.1" r="4.4"/><circle cx="1138.3" cy="479.3" r="4.4"/><circle cx="1141.9" cy="477.6" r="4.4"/><circle cx="1146.9" cy="477.5" r="4.4"/><circle cx="1150.6" cy="474.7" r="4.4"/><circle cx="1154.1" cy="477.5" r="4.4"/><circle cx="1153.8" cy="481" r="4.4"/><circle cx="1140.6" cy="481.3" r="4.4"/><circle cx="1147.5" cy="477.9" r="4.4"/><circle cx="1150.8" cy="478" r="4.4"/><circle cx="1134.4" cy="477.2" r="4.4"/><circle cx="1143.6" cy="478.2" r="4.4"/><circle cx="1143.5" cy="478.1" r="4.4"/><circle cx="1134.7" cy="479.5" r="4.4"/><circle cx="1147" cy="482.1" r="4.4"/><circle cx="1133.8" cy="480.2" r="4.4"/><circle cx="1135.9" cy="475.4" r="4.4"/><circle cx="1140.6" cy="477.6" r="4.4"/><circle cx="1152.9" cy="479.9" r="4.4"/><circle cx="1143.3" cy="478.8" r="4.4"/><circle cx="1142.7" cy="478.4" r="4.4"/><circle cx="1155.3" cy="477.6" r="4.4"/><circle cx="1138.9" cy="478.2" r="4.4"/><circle cx="1136.7" cy="476.6" r="4.4"/><circle cx="1140.6" cy="480.1" r="4.4"/><circle cx="1136.6" cy="478" r="4.4"/><circle cx="1138.7" cy="474.4" r="4.4"/><circle cx="1134.9" cy="479.8" r="4.4"/><circle cx="1161.2" cy="478" r="4.4"/><circle cx="1140.3" cy="478.2" r="4.4"/><circle cx="1157" cy="476.8" r="4.4"/><circle cx="1134.6" cy="477.5" r="4.4"/><circle cx="1161.9" cy="478.9" r="4.4"/><circle cx="1135.9" cy="477.5" r="4.4"/><circle cx="1134.2" cy="480.2" r="4.4"/><circle cx="1142.7" cy="478.1" r="4.4"/><circle cx="1136.7" cy="479.7" r="4.4"/><circle cx="1144.9" cy="476.7" r="4.4"/><circle cx="1164.2" cy="476.4" r="4.4"/><circle cx="1140.3" cy="476.5" r="4.4"/><circle cx="1149.8" cy="476.2" r="4.4"/><circle cx="1162.6" cy="478.1" r="4.4"/><circle cx="1146.4" cy="475.3" r="4.4"/><circle cx="1135.3" cy="478.6" r="4.4"/><circle cx="1148.5" cy="474.1" r="4.4"/><circle cx="1137.3" cy="478" r="4.4"/><circle cx="1145.4" cy="475.5" r="4.4"/><circle cx="1133.8" cy="475.5" r="4.4"/><circle cx="1144.6" cy="474.9" r="4.4"/><circle cx="1141.2" cy="478.9" r="4.4"/><circle cx="1145.8" cy="480.9" r="4.4"/><circle cx="1145.9" cy="474.3" r="4.4"/><circle cx="1135.2" cy="474.2" r="4.4"/><circle cx="1133.9" cy="475.9" r="4.4"/><circle cx="1142.1" cy="482.3" r="4.4"/><circle cx="1134.8" cy="477.5" r="4.4"/><circle cx="1141.3" cy="480.5" r="4.4"/><circle cx="1173.4" cy="471.6" r="4.4"/><circle cx="1174" cy="481.2" r="4.4"/><circle cx="1182" cy="474.6" r="4.4"/><circle cx="1189.4" cy="479.6" r="4.4"/><circle cx="1203.8" cy="473.2" r="4.4"/><circle cx="1215" cy="474.4" r="4.4"/><circle cx="1454.5" cy="474.5" r="4.4"/><circle cx="1657" cy="473.3" r="4.4"/></g>
<circle cx="1855.8" cy="478.3" r="4.3" fill="#cd201f" fill-opacity="0.85"/>
<polyline points="1133.8,475.9 1139.8,476 1145.9,476.2 1151.9,476.4 1158,476.6 1164.1,476.9 1170.1,477.2 1176.2,477.5 1182.3,477.9 1188.3,478.3 1194.4,478.7 1200.4,479.1 1206.5,479.4 1212.6,479.8 1218.6,480.2 1224.7,480.5 1230.8,480.7 1236.8,481 1242.9,481.2 1249,481.4 1255,481.7 1261.1,481.8 1267.1,482 1273.2,482 1279.3,482.1 1285.3,482.1 1291.4,482.1 1297.5,482.2 1303.5,482.2 1309.6,482.2 1315.7,482.2 1321.7,482.2 1327.8,482.2 1333.8,482.2 1339.9,482.2 1346,482.1 1352,482.1 1358.1,482.1 1364.2,482 1370.2,482 1376.3,482 1382.4,481.9 1388.4,481.9 1394.5,481.8 1400.5,481.8 1406.6,481.8 1412.7,481.7 1418.7,481.7 1424.8,481.6 1430.9,481.6 1436.9,481.5 1443,481.4 1449,481.4 1455.1,481.3 1461.2,481.2 1467.2,481.2 1473.3,481.1 1479.4,481 1485.4,481 1491.5,480.9 1497.6,480.8 1503.6,480.8 1509.7,480.7 1515.7,480.6 1521.8,480.5 1527.9,480.4 1533.9,480.4 1540,480.3 1546.1,480.2 1552.1,480.1 1558.2,480 1564.3,479.9 1570.3,479.9 1576.4,479.8 1582.4,479.7 1588.5,479.6 1594.6,479.5 1600.6,479.4 1606.7,479.3 1612.8,479.3 1618.8,479.2 1624.9,479.1 1631,479 1637,478.9 1643.1,478.9 1649.1,478.8 1655.2,478.7 1661.3,478.6 1667.3,478.6 1673.4,478.5 1679.5,478.4 1685.5,478.3 1691.6,478.3 1697.7,478.2 1703.7,478.1 1709.8,478.1 1715.8,478 1721.9,478 1728,477.9 1734,477.9 1740.1,477.9 1746.2,477.8 1752.2,477.8 1758.3,477.8 1764.3,477.7 1770.4,477.7 1776.5,477.7 1782.5,477.7 1788.6,477.6 1794.7,477.6 1800.7,477.6 1806.8,477.6 1812.9,477.6 1818.9,477.6 1825,477.5 1831,477.5 1837.1,477.5 1843.2,477.5 1849.2,477.5 1855.3,477.5" fill="none" stroke="#3aaf85" stroke-width="5.6" stroke-linejoin="round"/>
<text transform="translate(1121.2 495.4) scale(1 1.04)" font-size="23.3" fill="#1b6ca8" text-anchor="start">29</text>
<text transform="translate(1186.3 485.6) scale(1 1.04)" font-size="23.3" fill="#1b6ca8" text-anchor="start">112</text>
<text transform="translate(1466.8 479.2) scale(1 1.04)" font-size="23.3" fill="#1b6ca8" text-anchor="start">192</text>
<text transform="translate(1669.1 479.2) scale(1 1.04)" font-size="23.3" fill="#1b6ca8" text-anchor="start">185</text>
<text transform="translate(1815.6 490) scale(1 1.04)" font-size="23.3" fill="#cd201f" text-anchor="start">91</text>
<text transform="translate(1679.3 454.2) scale(1 1.04)" font-size="23.3" fill="#3aaf85" text-anchor="start">0.8</text>
<text transform="translate(1679.3 506.7) scale(1 1.04)" font-size="23.3" fill="#3aaf85" text-anchor="start">0.8</text>
<polyline clip-path="url(#c4)" points="1134.3,431.7 1141.6,445.8 1148.9,451.7 1156.2,455.1 1163.4,457.4 1170.7,459.1 1178,460.4 1185.3,461.5 1192.6,462.4 1199.9,463.1 1207.1,463.8 1214.4,464.3 1221.7,464.8 1229,465.3 1236.3,465.7 1243.6,466 1250.8,466.4 1258.1,466.7 1265.4,466.9 1272.7,467.2 1280,467.4 1287.3,467.7 1294.5,467.9 1301.8,468.1 1309.1,468.3 1316.4,468.4 1323.7,468.6 1331,468.8 1338.3,468.9 1345.5,469.1 1352.8,469.2 1360.1,469.3 1367.4,469.4 1374.7,469.6 1382,469.7 1389.2,469.8 1396.5,469.9 1403.8,470 1411.1,470.1 1418.4,470.2 1425.7,470.3 1432.9,470.4 1440.2,470.5 1447.5,470.6 1454.8,470.6 1462.1,470.7 1469.4,470.8 1476.7,470.9 1483.9,471 1491.2,471 1498.5,471.1 1505.8,471.2 1513.1,471.2 1520.4,471.3 1527.6,471.4 1534.9,471.4 1542.2,471.5 1549.5,471.5 1556.8,471.6 1564.1,471.7 1571.3,471.7 1578.6,471.8 1585.9,471.8 1593.2,471.9 1600.5,471.9 1607.8,472 1615.1,472 1622.3,472.1 1629.6,472.1 1636.9,472.2 1644.2,472.2 1651.5,472.3 1658.8,472.3 1666,472.4 1673.3,472.4 1680.6,472.5 1687.9,472.5 1695.2,472.5 1702.5,472.6 1709.7,472.6 1717,472.7 1724.3,472.7 1731.6,472.8 1738.9,472.8 1746.2,472.8 1753.5,472.9 1760.7,472.9 1768,473 1775.3,473 1782.6,473 1789.9,473.1 1797.2,473.1 1804.4,473.1 1811.7,473.2 1819,473.2 1826.3,473.3 1833.6,473.3 1840.9,473.3 1848.1,473.4 1855.4,473.4" fill="none" stroke="#3aaf85" stroke-width="3.9" stroke-dasharray="16 16" stroke-dashoffset="4.8"/>
<polyline clip-path="url(#c4)" points="1134.3,519.9 1141.6,505.8 1148.9,499.9 1156.2,496.5 1163.4,494.2 1170.7,492.5 1178,491.2 1185.3,490.1 1192.6,489.2 1199.9,488.5 1207.1,487.8 1214.4,487.3 1221.7,486.8 1229,486.3 1236.3,485.9 1243.6,485.6 1250.8,485.2 1258.1,484.9 1265.4,484.7 1272.7,484.4 1280,484.2 1287.3,483.9 1294.5,483.7 1301.8,483.5 1309.1,483.3 1316.4,483.2 1323.7,483 1331,482.8 1338.3,482.7 1345.5,482.5 1352.8,482.4 1360.1,482.3 1367.4,482.2 1374.7,482 1382,481.9 1389.2,481.8 1396.5,481.7 1403.8,481.6 1411.1,481.5 1418.4,481.4 1425.7,481.3 1432.9,481.2 1440.2,481.1 1447.5,481 1454.8,481 1462.1,480.9 1469.4,480.8 1476.7,480.7 1483.9,480.6 1491.2,480.6 1498.5,480.5 1505.8,480.4 1513.1,480.4 1520.4,480.3 1527.6,480.2 1534.9,480.2 1542.2,480.1 1549.5,480.1 1556.8,480 1564.1,479.9 1571.3,479.9 1578.6,479.8 1585.9,479.8 1593.2,479.7 1600.5,479.7 1607.8,479.6 1615.1,479.6 1622.3,479.5 1629.6,479.5 1636.9,479.4 1644.2,479.4 1651.5,479.3 1658.8,479.3 1666,479.2 1673.3,479.2 1680.6,479.1 1687.9,479.1 1695.2,479.1 1702.5,479 1709.7,479 1717,478.9 1724.3,478.9 1731.6,478.8 1738.9,478.8 1746.2,478.8 1753.5,478.7 1760.7,478.7 1768,478.6 1775.3,478.6 1782.6,478.6 1789.9,478.5 1797.2,478.5 1804.4,478.5 1811.7,478.4 1819,478.4 1826.3,478.3 1833.6,478.3 1840.9,478.3 1848.1,478.2 1855.4,478.2" fill="none" stroke="#3aaf85" stroke-width="3.9" stroke-dasharray="16 16" stroke-dashoffset="4.8"/>
<line x1="1092.2" y1="427.9" x2="1092.2" y2="523.4" stroke="#c7c7c7" stroke-width="1.9"/>
<line x1="1091.3" y1="522.6" x2="1891.7" y2="522.6" stroke="#c7c7c7" stroke-width="1.9"/>
<text transform="translate(1079.5 449.6) scale(1 1.04)" font-size="27.2" fill="#7f7f7f" text-anchor="end">20</text>
<text transform="translate(1079.5 468.3) scale(1 1.04)" font-size="27.2" fill="#7f7f7f" text-anchor="end">10</text>
<text transform="translate(1079.5 487) scale(1 1.04)" font-size="27.2" fill="#7f7f7f" text-anchor="end">0</text>
<text transform="translate(1079.5 505.7) scale(1 1.04)" font-size="27.2" fill="#7f7f7f" text-anchor="end">-10</text>
<text transform="translate(1079.5 524.4) scale(1 1.04)" font-size="27.2" fill="#7f7f7f" text-anchor="end">-20</text>
<text transform="translate(1128 556.9) scale(1 1.04)" font-size="27.2" fill="#7f7f7f" text-anchor="middle">0.0</text>
<text transform="translate(1348.6 556.9) scale(1 1.04)" font-size="27.2" fill="#7f7f7f" text-anchor="middle">0.2</text>
<text transform="translate(1569.2 556.9) scale(1 1.04)" font-size="27.2" fill="#7f7f7f" text-anchor="middle">0.4</text>
<text transform="translate(1789.8 556.9) scale(1 1.04)" font-size="27.2" fill="#7f7f7f" text-anchor="middle">0.6</text>
<text transform="translate(1405.2 596.7) scale(1 1.04)" font-size="28.6" fill="#4d4d4d" text-anchor="start">Leverage (h<tspan font-size="20.6" dy="5.4">ii</tspan><tspan dy="-5.4" dx="1.9">)</tspan></text>
<text transform="translate(1015.3 476) rotate(-90) scale(1 1.04)" font-size="28.7" fill="#4d4d4d" text-anchor="middle">Std. Residuals</text>
<text transform="translate(991.4 375.5) scale(1 1.04)" font-size="31.6" fill="#000" text-anchor="start">Influential Observations</text>
<text transform="translate(991.7 410.5) scale(1 1.04)" font-size="27.25" fill="#000" text-anchor="start">Points should be inside the contour lines</text>
<defs>
<clipPath id="c5"><rect x="165" y="711.8" width="800" height="94.5"/></clipPath>
</defs>
<rect x="165" y="711.8" width="800" height="4.9" fill="#fbdcdc"/>
<rect x="165" y="716.7" width="800" height="26.9" fill="#dde8f1"/>
<rect x="165" y="743.6" width="800" height="61.9" fill="#e1f3ed"/>
<line x1="165" y1="716.7" x2="965" y2="716.7" stroke="#8f9a9a" stroke-width="1.6" stroke-opacity="0.36"/>
<line x1="165" y1="730.2" x2="965" y2="730.2" stroke="#8f9a9a" stroke-width="1.6" stroke-opacity="0.36"/>
<line x1="165" y1="743.6" x2="965" y2="743.6" stroke="#8f9a9a" stroke-width="1.6" stroke-opacity="0.36"/>
<line x1="165" y1="753.6" x2="965" y2="753.6" stroke="#8f9a9a" stroke-width="1.6" stroke-opacity="0.36"/>
<line x1="165" y1="763.5" x2="965" y2="763.5" stroke="#8f9a9a" stroke-width="1.6" stroke-opacity="0.36"/>
<line x1="165" y1="771.4" x2="965" y2="771.4" stroke="#8f9a9a" stroke-width="1.6" stroke-opacity="0.36"/>
<line x1="165" y1="779.3" x2="965" y2="779.3" stroke="#8f9a9a" stroke-width="1.6" stroke-opacity="0.36"/>
<line x1="165" y1="792.7" x2="965" y2="792.7" stroke="#8f9a9a" stroke-width="1.6" stroke-opacity="0.36"/>
<line x1="315" y1="711.8" x2="315" y2="805.5" stroke="#3aaf85" stroke-width="4.0"/>
<circle clip-path="url(#c5)" cx="315" cy="806.2" r="8.3" fill="#3aaf85"/>
<line x1="565" y1="711.8" x2="565" y2="805.5" stroke="#3aaf85" stroke-width="4.0"/>
<circle clip-path="url(#c5)" cx="565" cy="806.2" r="8.3" fill="#3aaf85"/>
<line x1="815" y1="711.8" x2="815" y2="805.5" stroke="#3aaf85" stroke-width="4.0"/>
<circle clip-path="url(#c5)" cx="815" cy="806.2" r="8.3" fill="#3aaf85"/>
<line x1="165" y1="711.5" x2="165" y2="806.4" stroke="#c7c7c7" stroke-width="1.9"/>
<line x1="164.1" y1="805.6" x2="965" y2="805.6" stroke="#c7c7c7" stroke-width="1.9"/>
<text transform="translate(152.8 727.6) scale(1 1.04)" font-size="27.2" fill="#7f7f7f" text-anchor="end">10</text>
<text transform="translate(152.8 754.54) scale(1 1.04)" font-size="27.2" fill="#7f7f7f" text-anchor="end">5</text>
<text transform="translate(152.8 774.4) scale(1 1.04)" font-size="27.2" fill="#7f7f7f" text-anchor="end">3</text>
<text transform="translate(152.8 790.16) scale(1 1.04)" font-size="27.2" fill="#7f7f7f" text-anchor="end">2</text>
<text transform="translate(152.8 817.1) scale(1 1.04)" font-size="27.2" fill="#7f7f7f" text-anchor="end">1</text>
<text transform="translate(315 839.75) scale(1 1.04)" font-size="27.2" fill="#7f7f7f" text-anchor="middle">Ageyears</text>
<text transform="translate(565 839.75) scale(1 1.04)" font-size="27.2" fill="#7f7f7f" text-anchor="middle">social_med_hrs</text>
<text transform="translate(815 839.75) scale(1 1.04)" font-size="27.2" fill="#7f7f7f" text-anchor="middle">video_game_hrs</text>
<text transform="translate(50.4 758.6) rotate(-90) scale(1 1.04)" font-size="28.7" fill="#4d4d4d" text-anchor="middle">Variance Inflation</text>
<text transform="translate(81.8 758.6) rotate(-90) scale(1 1.04)" font-size="28.7" fill="#4d4d4d" text-anchor="middle">Factor (VIF, log-scaled)</text>
<text transform="translate(26.6 659.6) scale(1 1.04)" font-size="31.6" fill="#000" text-anchor="start">Collinearity</text>
<text transform="translate(26.9 694.6) scale(1 1.04)" font-size="27.25" fill="#000" text-anchor="start">High collinearity (VIF) may inflate parameter uncertainty</text>
<line x1="508.1" y1="903.4" x2="508.1" y2="939.6" stroke="#3aaf85" stroke-width="3.9"/>
<circle cx="508.2" cy="922.0" r="8.4" fill="#3aaf85"/>
<text transform="translate(536.4 932.7) scale(1 1.04)" font-size="27.2" fill="#4d4d4d" text-anchor="start">Low (&lt; 5)</text>
<defs>
<clipPath id="c6"><rect x="1092.2" y="711.8" width="799.5" height="94"/></clipPath>
</defs>
<line x1="1092.2" y1="723.7" x2="1891.7" y2="723.7" stroke="#ebebeb" stroke-width="1.95"/>
<line x1="1092.2" y1="736" x2="1891.7" y2="736" stroke="#ebebeb" stroke-width="1.95"/>
<line x1="1092.2" y1="748.3" x2="1891.7" y2="748.3" stroke="#ebebeb" stroke-width="1.95"/>
<line x1="1092.2" y1="760.6" x2="1891.7" y2="760.6" stroke="#ebebeb" stroke-width="1.95"/>
<line x1="1092.2" y1="772.9" x2="1891.7" y2="772.9" stroke="#ebebeb" stroke-width="1.95"/>
<line x1="1092.2" y1="785.2" x2="1891.7" y2="785.2" stroke="#ebebeb" stroke-width="1.95"/>
<line x1="1092.2" y1="797.5" x2="1891.7" y2="797.5" stroke="#ebebeb" stroke-width="1.95"/>
<line x1="1101.5" y1="711.8" x2="1101.5" y2="805.8" stroke="#ebebeb" stroke-width="1.95"/>
<line x1="1166.6" y1="711.8" x2="1166.6" y2="805.8" stroke="#ebebeb" stroke-width="1.95"/>
<line x1="1231.7" y1="711.8" x2="1231.7" y2="805.8" stroke="#ebebeb" stroke-width="1.95"/>
<line x1="1296.7" y1="711.8" x2="1296.7" y2="805.8" stroke="#ebebeb" stroke-width="1.95"/>
<line x1="1361.8" y1="711.8" x2="1361.8" y2="805.8" stroke="#ebebeb" stroke-width="1.95"/>
<line x1="1426.9" y1="711.8" x2="1426.9" y2="805.8" stroke="#ebebeb" stroke-width="1.95"/>
<line x1="1492" y1="711.8" x2="1492" y2="805.8" stroke="#ebebeb" stroke-width="1.95"/>
<line x1="1557" y1="711.8" x2="1557" y2="805.8" stroke="#ebebeb" stroke-width="1.95"/>
<line x1="1622.1" y1="711.8" x2="1622.1" y2="805.8" stroke="#ebebeb" stroke-width="1.95"/>
<line x1="1687.2" y1="711.8" x2="1687.2" y2="805.8" stroke="#ebebeb" stroke-width="1.95"/>
<line x1="1752.2" y1="711.8" x2="1752.2" y2="805.8" stroke="#ebebeb" stroke-width="1.95"/>
<line x1="1817.3" y1="711.8" x2="1817.3" y2="805.8" stroke="#ebebeb" stroke-width="1.95"/>
<line x1="1882.4" y1="711.8" x2="1882.4" y2="805.8" stroke="#ebebeb" stroke-width="1.95"/>
<line x1="1092.2" y1="736" x2="1891.7" y2="736" stroke="#3aaf85" stroke-width="3.9"/>
<g clip-path="url(#c6)" fill="#1b6ca8"><circle cx="1128.3" cy="802.3" r="5.65"/><circle cx="1177.3" cy="782.3" r="5.65"/><circle cx="1202.3" cy="771.4" r="5.65"/><circle cx="1219.7" cy="774.2" r="5.65"/><circle cx="1233.3" cy="773.4" r="5.65"/><circle cx="1244.5" cy="775.2" r="5.65"/><circle cx="1254.2" cy="773.4" r="5.65"/><circle cx="1262.7" cy="771.9" r="5.65"/><circle cx="1270.3" cy="754.4" r="5.65"/><circle cx="1277.2" cy="740.3" r="5.65"/><circle cx="1283.6" cy="742.3" r="5.65"/><circle cx="1289.5" cy="743.8" r="5.65"/><circle cx="1295" cy="744.4" r="5.65"/><circle cx="1300.2" cy="746.5" r="5.65"/><circle cx="1305.1" cy="740.7" r="5.65"/><circle cx="1309.7" cy="739.8" r="5.65"/><circle cx="1314.1" cy="740.9" r="5.65"/><circle cx="1318.4" cy="742.4" r="5.65"/><circle cx="1322.4" cy="743.4" r="5.65"/><circle cx="1326.3" cy="743.4" r="5.65"/><circle cx="1330.1" cy="743.4" r="5.65"/><circle cx="1333.7" cy="740.8" r="5.65"/><circle cx="1337.2" cy="739.2" r="5.65"/><circle cx="1340.6" cy="739.7" r="5.65"/><circle cx="1343.9" cy="739.2" r="5.65"/><circle cx="1347.1" cy="734.3" r="5.65"/><circle cx="1350.2" cy="731.2" r="5.65"/><circle cx="1353.2" cy="727.7" r="5.65"/><circle cx="1356.2" cy="724.3" r="5.65"/><circle cx="1359.1" cy="724.7" r="5.65"/><circle cx="1361.9" cy="725.1" r="5.65"/><circle cx="1364.7" cy="725.5" r="5.65"/><circle cx="1367.4" cy="725.8" r="5.65"/><circle cx="1370" cy="726.1" r="5.65"/><circle cx="1372.7" cy="726.1" r="5.65"/><circle cx="1375.2" cy="726" r="5.65"/><circle cx="1377.7" cy="725.5" r="5.65"/><circle cx="1380.2" cy="722.4" r="5.65"/><circle cx="1382.7" cy="722.3" r="5.65"/><circle cx="1385.1" cy="722.7" r="5.65"/><circle cx="1387.4" cy="722.5" r="5.65"/><circle cx="1389.7" cy="720" r="5.65"/><circle cx="1392" cy="718" r="5.65"/><circle cx="1394.3" cy="718.2" r="5.65"/><circle cx="1396.5" cy="718.5" r="5.65"/><circle cx="1398.8" cy="718.7" r="5.65"/><circle cx="1400.9" cy="718.9" r="5.65"/><circle cx="1403.1" cy="719.1" r="5.65"/><circle cx="1405.2" cy="719.6" r="5.65"/><circle cx="1407.3" cy="720.1" r="5.65"/><circle cx="1409.4" cy="720.5" r="5.65"/><circle cx="1411.5" cy="721" r="5.65"/><circle cx="1413.5" cy="721.4" r="5.65"/><circle cx="1415.6" cy="722.1" r="5.65"/><circle cx="1417.6" cy="722.8" r="5.65"/><circle cx="1419.6" cy="723.4" r="5.65"/><circle cx="1421.5" cy="724.1" r="5.65"/><circle cx="1423.5" cy="724.7" r="5.65"/><circle cx="1425.4" cy="725.4" r="5.65"/><circle cx="1427.4" cy="726.1" r="5.65"/><circle cx="1429.3" cy="726.8" r="5.65"/><circle cx="1431.2" cy="727.4" r="5.65"/><circle cx="1433.1" cy="728.1" r="5.65"/><circle cx="1435" cy="728.8" r="5.65"/><circle cx="1436.8" cy="729.3" r="5.65"/><circle cx="1438.7" cy="729.7" r="5.65"/><circle cx="1440.5" cy="730.1" r="5.65"/><circle cx="1442.3" cy="730.5" r="5.65"/><circle cx="1444.2" cy="730.9" r="5.65"/><circle cx="1446" cy="730.3" r="5.65"/><circle cx="1447.8" cy="726.6" r="5.65"/><circle cx="1449.6" cy="725.1" r="5.65"/><circle cx="1451.4" cy="725.2" r="5.65"/><circle cx="1453.2" cy="725.4" r="5.65"/><circle cx="1454.9" cy="725.5" r="5.65"/><circle cx="1456.7" cy="725.6" r="5.65"/><circle cx="1458.5" cy="725.8" r="5.65"/><circle cx="1460.2" cy="725.8" r="5.65"/><circle cx="1462" cy="725.8" r="5.65"/><circle cx="1463.7" cy="725.8" r="5.65"/><circle cx="1465.4" cy="725.5" r="5.65"/><circle cx="1467.2" cy="724.4" r="5.65"/><circle cx="1468.9" cy="723.9" r="5.65"/><circle cx="1470.6" cy="724.2" r="5.65"/><circle cx="1472.3" cy="724.5" r="5.65"/><circle cx="1474.1" cy="724.9" r="5.65"/><circle cx="1475.8" cy="725.2" r="5.65"/><circle cx="1477.5" cy="725.5" r="5.65"/><circle cx="1479.2" cy="725.8" r="5.65"/><circle cx="1480.9" cy="726.2" r="5.65"/><circle cx="1482.6" cy="726.7" r="5.65"/><circle cx="1484.3" cy="727.2" r="5.65"/><circle cx="1486" cy="727.7" r="5.65"/><circle cx="1487.7" cy="728.1" r="5.65"/><circle cx="1489.4" cy="728.6" r="5.65"/><circle cx="1491.1" cy="729.1" r="5.65"/><circle cx="1492.8" cy="729.6" r="5.65"/><circle cx="1494.5" cy="730.2" r="5.65"/><circle cx="1496.2" cy="730.9" r="5.65"/><circle cx="1497.9" cy="731.5" r="5.65"/><circle cx="1499.6" cy="732.1" r="5.65"/><circle cx="1501.3" cy="732.8" r="5.65"/><circle cx="1503" cy="733.4" r="5.65"/><circle cx="1504.7" cy="734.1" r="5.65"/><circle cx="1506.4" cy="734.7" r="5.65"/><circle cx="1508.1" cy="735.2" r="5.65"/><circle cx="1509.8" cy="735.7" r="5.65"/><circle cx="1511.6" cy="736.3" r="5.65"/><circle cx="1513.3" cy="736.8" r="5.65"/><circle cx="1515" cy="737.3" r="5.65"/><circle cx="1516.7" cy="737.9" r="5.65"/><circle cx="1518.5" cy="738.4" r="5.65"/><circle cx="1520.2" cy="738.7" r="5.65"/><circle cx="1521.9" cy="739" r="5.65"/><circle cx="1523.7" cy="739.3" r="5.65"/><circle cx="1525.4" cy="739.6" r="5.65"/><circle cx="1527.2" cy="740" r="5.65"/><circle cx="1529" cy="740.3" r="5.65"/><circle cx="1530.7" cy="737.2" r="5.65"/><circle cx="1532.5" cy="734.8" r="5.65"/><circle cx="1534.3" cy="735.2" r="5.65"/><circle cx="1536.1" cy="735.5" r="5.65"/><circle cx="1537.9" cy="735.9" r="5.65"/><circle cx="1539.7" cy="736.3" r="5.65"/><circle cx="1541.6" cy="736.7" r="5.65"/><circle cx="1543.4" cy="736.7" r="5.65"/><circle cx="1545.2" cy="736.8" r="5.65"/><circle cx="1547.1" cy="736.8" r="5.65"/><circle cx="1548.9" cy="736.9" r="5.65"/><circle cx="1550.8" cy="736.9" r="5.65"/><circle cx="1552.7" cy="736.9" r="5.65"/><circle cx="1554.6" cy="737" r="5.65"/><circle cx="1556.5" cy="736.8" r="5.65"/><circle cx="1558.5" cy="736.3" r="5.65"/><circle cx="1560.4" cy="735.9" r="5.65"/><circle cx="1562.4" cy="735.6" r="5.65"/><circle cx="1564.3" cy="736" r="5.65"/><circle cx="1566.3" cy="736.5" r="5.65"/><circle cx="1568.3" cy="736.9" r="5.65"/><circle cx="1570.4" cy="737.4" r="5.65"/><circle cx="1572.4" cy="737.9" r="5.65"/><circle cx="1574.5" cy="738.3" r="5.65"/><circle cx="1576.6" cy="739.1" r="5.65"/><circle cx="1578.7" cy="739.8" r="5.65"/><circle cx="1580.8" cy="740.5" r="5.65"/><circle cx="1583" cy="741.3" r="5.65"/><circle cx="1585.1" cy="742.1" r="5.65"/><circle cx="1587.4" cy="742.8" r="5.65"/><circle cx="1589.6" cy="743.6" r="5.65"/><circle cx="1591.9" cy="744.3" r="5.65"/><circle cx="1594.2" cy="745" r="5.65"/><circle cx="1596.5" cy="745.7" r="5.65"/><circle cx="1598.8" cy="746.4" r="5.65"/><circle cx="1601.2" cy="747.1" r="5.65"/><circle cx="1603.7" cy="747.8" r="5.65"/><circle cx="1606.2" cy="748.5" r="5.65"/><circle cx="1608.7" cy="749" r="5.65"/><circle cx="1611.2" cy="749.4" r="5.65"/><circle cx="1613.9" cy="749.9" r="5.65"/><circle cx="1616.5" cy="750.4" r="5.65"/><circle cx="1619.2" cy="750.8" r="5.65"/><circle cx="1622" cy="750.6" r="5.65"/><circle cx="1624.8" cy="746.8" r="5.65"/><circle cx="1627.7" cy="744.9" r="5.65"/><circle cx="1630.7" cy="745.2" r="5.65"/><circle cx="1633.7" cy="745.6" r="5.65"/><circle cx="1636.8" cy="745.9" r="5.65"/><circle cx="1640" cy="745.5" r="5.65"/><circle cx="1643.3" cy="743.4" r="5.65"/><circle cx="1646.7" cy="742.7" r="5.65"/><circle cx="1650.2" cy="743.8" r="5.65"/><circle cx="1653.8" cy="745" r="5.65"/><circle cx="1657.6" cy="745.6" r="5.65"/><circle cx="1661.5" cy="746" r="5.65"/><circle cx="1665.5" cy="746.4" r="5.65"/><circle cx="1669.8" cy="739.8" r="5.65"/><circle cx="1674.2" cy="739.4" r="5.65"/><circle cx="1678.8" cy="740" r="5.65"/><circle cx="1683.7" cy="740.5" r="5.65"/><circle cx="1688.9" cy="736.3" r="5.65"/><circle cx="1694.4" cy="738" r="5.65"/><circle cx="1700.3" cy="738.3" r="5.65"/><circle cx="1706.7" cy="739.8" r="5.65"/><circle cx="1713.6" cy="741.9" r="5.65"/><circle cx="1721.2" cy="745.3" r="5.65"/><circle cx="1729.7" cy="747.5" r="5.65"/><circle cx="1739.4" cy="747.3" r="5.65"/><circle cx="1750.6" cy="746.4" r="5.65"/><circle cx="1764.2" cy="748.4" r="5.65"/><circle cx="1781.6" cy="746.5" r="5.65"/><circle cx="1806.6" cy="755.5" r="5.65"/><circle cx="1855.6" cy="766.4" r="5.65"/></g>
<line x1="1092.2" y1="711.5" x2="1092.2" y2="806.7" stroke="#c7c7c7" stroke-width="1.9"/>
<line x1="1091.3" y1="805.9" x2="1891.7" y2="805.9" stroke="#c7c7c7" stroke-width="1.9"/>
<text transform="translate(1079.5 747.8) scale(1 1.04)" font-size="27.2" fill="#7f7f7f" text-anchor="end">0.0</text>
<text transform="translate(1079.5 772.4) scale(1 1.04)" font-size="27.2" fill="#7f7f7f" text-anchor="end">-0.5</text>
<text transform="translate(1079.5 797) scale(1 1.04)" font-size="27.2" fill="#7f7f7f" text-anchor="end">-1.0</text>
<text transform="translate(1101.5 839.75) scale(1 1.04)" font-size="27.2" fill="#7f7f7f" text-anchor="middle">-3</text>
<text transform="translate(1231.65 839.75) scale(1 1.04)" font-size="27.2" fill="#7f7f7f" text-anchor="middle">-2</text>
<text transform="translate(1361.8 839.75) scale(1 1.04)" font-size="27.2" fill="#7f7f7f" text-anchor="middle">-1</text>
<text transform="translate(1491.95 839.75) scale(1 1.04)" font-size="27.2" fill="#7f7f7f" text-anchor="middle">0</text>
<text transform="translate(1622.1 839.75) scale(1 1.04)" font-size="27.2" fill="#7f7f7f" text-anchor="middle">1</text>
<text transform="translate(1752.25 839.75) scale(1 1.04)" font-size="27.2" fill="#7f7f7f" text-anchor="middle">2</text>
<text transform="translate(1882.4 839.75) scale(1 1.04)" font-size="27.2" fill="#7f7f7f" text-anchor="middle">3</text>
<text transform="translate(1491.8 880.6) scale(1 1.04)" font-size="29.28" fill="#4d4d4d" text-anchor="middle">Standard Normal Distribution Quantiles</text>
<text transform="translate(1015.3 758.6) rotate(-90) scale(1 1.04)" font-size="28.7" fill="#4d4d4d" text-anchor="middle">Sample Quantile Deviations</text>
<text transform="translate(991.4 659.6) scale(1 1.04)" font-size="31.6" fill="#000" text-anchor="start">Normality of Residuals</text>
<text transform="translate(991.7 694.6) scale(1 1.04)" font-size="27.25" fill="#000" text-anchor="start">Dots should fall along the line</text>
</svg>
</body></html>
